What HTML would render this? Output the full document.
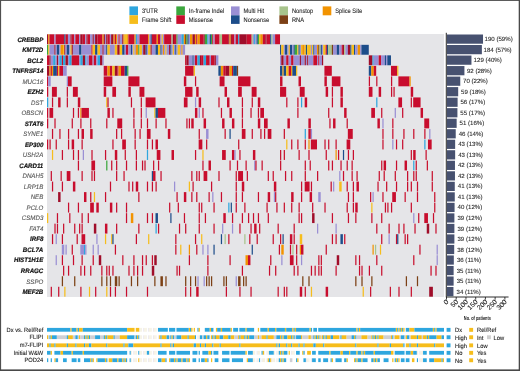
<!DOCTYPE html><html><head><meta charset="utf-8"><style>
html,body{margin:0;padding:0;background:#fff;}
svg{display:block;}
text{font-family:"Liberation Sans",Arial,sans-serif;text-rendering:geometricPrecision;}
.lg{font-size:6.5px;fill:#222;stroke:#222;stroke-width:0.08px;}
.gb{font-size:6.4px;font-weight:bold;font-style:italic;fill:#111;stroke:#111;stroke-width:0.18px;}
.gn{font-size:6.4px;font-style:italic;fill:#585858;stroke:#585858;stroke-width:0.12px;}
.bt{font-size:6.1px;fill:#2a2a2a;stroke:#2a2a2a;stroke-width:0.1px;}
.ax{font-size:6.8px;fill:#222;stroke:#222;stroke-width:0.1px;}
.ax2{font-size:5.8px;font-weight:bold;fill:#222;}
.cl{font-size:6.2px;fill:#222;stroke:#222;stroke-width:0.1px;}
</style></head><body><svg width="520" height="371" viewBox="0 0 520 371">
<rect x="0" y="0" width="520" height="371" fill="#fff"/>
<defs><filter id="bl" x="0" y="0" width="1" height="1"><feGaussianBlur stdDeviation="0.35"/></filter></defs>
<g filter="url(#bl)">
<rect x="129.4" y="6.4" width="8.6" height="8.9" fill="#2ea6de"/>
<text transform="translate(141.90,13.10) scale(0.88,1)" class="lg">3'UTR</text>
<rect x="129.4" y="15.3" width="8.6" height="8.6" fill="#f6bd1b"/>
<text transform="translate(141.90,21.80) scale(0.88,1)" class="lg">Frame Shift</text>
<rect x="176.3" y="6.4" width="8.6" height="8.9" fill="#3aa63c"/>
<text transform="translate(188.80,13.10) scale(0.88,1)" class="lg">In-frame Indel</text>
<rect x="176.3" y="15.3" width="8.6" height="8.6" fill="#c8102e"/>
<text transform="translate(188.80,21.80) scale(0.88,1)" class="lg">Missense</text>
<rect x="231.0" y="6.4" width="8.6" height="8.9" fill="#9a8fd4"/>
<text transform="translate(243.50,13.10) scale(0.88,1)" class="lg">Multi Hit</text>
<rect x="231.0" y="15.3" width="8.6" height="8.6" fill="#1f4e8a"/>
<text transform="translate(243.50,21.80) scale(0.88,1)" class="lg">Nonsense</text>
<rect x="279.4" y="6.4" width="8.6" height="8.9" fill="#a8c48c"/>
<text transform="translate(291.90,13.10) scale(0.88,1)" class="lg">Nonstop</text>
<rect x="279.4" y="15.3" width="8.6" height="8.6" fill="#7b3f12"/>
<text transform="translate(291.90,21.80) scale(0.88,1)" class="lg">RNA</text>
<rect x="322.7" y="6.4" width="8.6" height="8.9" fill="#f29300"/>
<text transform="translate(335.20,13.10) scale(0.88,1)" class="lg">Splice Site</text>
<rect x="47.0" y="34.0" width="397.0" height="263.00" fill="#e5e5e8"/>
<rect x="47.00" y="34.30" width="1.23" height="9.92" fill="#a0102a"/>
<rect x="48.23" y="34.30" width="1.23" height="9.92" fill="#f29300"/>
<rect x="49.47" y="34.30" width="4.93" height="9.92" fill="#c8102e"/>
<rect x="54.40" y="34.30" width="1.23" height="9.92" fill="#9a8fd4"/>
<rect x="55.63" y="34.30" width="8.63" height="9.92" fill="#c8102e"/>
<rect x="64.26" y="34.30" width="1.23" height="9.92" fill="#1f4e8a"/>
<rect x="65.49" y="34.30" width="2.47" height="9.92" fill="#c8102e"/>
<rect x="67.96" y="34.30" width="2.47" height="9.92" fill="#9a8fd4"/>
<rect x="70.43" y="34.30" width="1.23" height="9.92" fill="#a0102a"/>
<rect x="71.66" y="34.30" width="2.47" height="9.92" fill="#c8102e"/>
<rect x="74.12" y="34.30" width="1.23" height="9.92" fill="#9a8fd4"/>
<rect x="75.36" y="34.30" width="3.70" height="9.92" fill="#c8102e"/>
<rect x="79.06" y="34.30" width="1.23" height="9.92" fill="#9a8fd4"/>
<rect x="80.29" y="34.30" width="2.47" height="9.92" fill="#a0102a"/>
<rect x="82.75" y="34.30" width="2.47" height="9.92" fill="#c8102e"/>
<rect x="85.22" y="34.30" width="1.23" height="9.92" fill="#9a8fd4"/>
<rect x="86.45" y="34.30" width="1.23" height="9.92" fill="#a0102a"/>
<rect x="87.69" y="34.30" width="2.47" height="9.92" fill="#c8102e"/>
<rect x="90.15" y="34.30" width="2.47" height="9.92" fill="#9a8fd4"/>
<rect x="92.62" y="34.30" width="1.23" height="9.92" fill="#a0102a"/>
<rect x="93.85" y="34.30" width="1.23" height="9.92" fill="#9a8fd4"/>
<rect x="95.08" y="34.30" width="2.47" height="9.92" fill="#a0102a"/>
<rect x="97.55" y="34.30" width="4.93" height="9.92" fill="#c8102e"/>
<rect x="102.48" y="34.30" width="1.23" height="9.92" fill="#f29300"/>
<rect x="103.71" y="34.30" width="1.23" height="9.92" fill="#a0102a"/>
<rect x="104.95" y="34.30" width="1.23" height="9.92" fill="#9a8fd4"/>
<rect x="106.18" y="34.30" width="1.23" height="9.92" fill="#a0102a"/>
<rect x="107.41" y="34.30" width="2.47" height="9.92" fill="#c8102e"/>
<rect x="109.88" y="34.30" width="1.23" height="9.92" fill="#9a8fd4"/>
<rect x="111.11" y="34.30" width="2.47" height="9.92" fill="#a0102a"/>
<rect x="113.58" y="34.30" width="1.23" height="9.92" fill="#f29300"/>
<rect x="114.81" y="34.30" width="1.23" height="9.92" fill="#c8102e"/>
<rect x="116.04" y="34.30" width="1.23" height="9.92" fill="#f29300"/>
<rect x="117.28" y="34.30" width="1.23" height="9.92" fill="#9a8fd4"/>
<rect x="118.51" y="34.30" width="1.23" height="9.92" fill="#c8102e"/>
<rect x="119.74" y="34.30" width="2.47" height="9.92" fill="#9a8fd4"/>
<rect x="122.21" y="34.30" width="1.23" height="9.92" fill="#a0102a"/>
<rect x="123.44" y="34.30" width="1.23" height="9.92" fill="#f29300"/>
<rect x="124.67" y="34.30" width="2.47" height="9.92" fill="#f6bd1b"/>
<rect x="127.14" y="34.30" width="1.23" height="9.92" fill="#f29300"/>
<rect x="128.37" y="34.30" width="6.16" height="9.92" fill="#c8102e"/>
<rect x="134.54" y="34.30" width="1.23" height="9.92" fill="#f29300"/>
<rect x="135.77" y="34.30" width="1.23" height="9.92" fill="#2ea6de"/>
<rect x="137.00" y="34.30" width="2.47" height="9.92" fill="#9a8fd4"/>
<rect x="139.47" y="34.30" width="8.63" height="9.92" fill="#c8102e"/>
<rect x="148.10" y="34.30" width="1.23" height="9.92" fill="#f29300"/>
<rect x="149.33" y="34.30" width="1.23" height="9.92" fill="#9a8fd4"/>
<rect x="150.57" y="34.30" width="1.23" height="9.92" fill="#1f4e8a"/>
<rect x="151.80" y="34.30" width="4.93" height="9.92" fill="#c8102e"/>
<rect x="156.73" y="34.30" width="1.23" height="9.92" fill="#f29300"/>
<rect x="157.96" y="34.30" width="2.47" height="9.92" fill="#c8102e"/>
<rect x="160.43" y="34.30" width="1.23" height="9.92" fill="#9a8fd4"/>
<rect x="161.66" y="34.30" width="1.23" height="9.92" fill="#f6bd1b"/>
<rect x="162.89" y="34.30" width="1.23" height="9.92" fill="#9a8fd4"/>
<rect x="164.13" y="34.30" width="7.40" height="9.92" fill="#c8102e"/>
<rect x="171.52" y="34.30" width="1.23" height="9.92" fill="#a8c48c"/>
<rect x="172.76" y="34.30" width="1.23" height="9.92" fill="#a0102a"/>
<rect x="173.99" y="34.30" width="2.47" height="9.92" fill="#c8102e"/>
<rect x="176.46" y="34.30" width="1.23" height="9.92" fill="#3aa63c"/>
<rect x="177.69" y="34.30" width="3.70" height="9.92" fill="#9a8fd4"/>
<rect x="181.39" y="34.30" width="2.47" height="9.92" fill="#2ea6de"/>
<rect x="183.85" y="34.30" width="1.23" height="9.92" fill="#f29300"/>
<rect x="185.09" y="34.30" width="1.23" height="9.92" fill="#7b3f12"/>
<rect x="186.32" y="34.30" width="1.23" height="9.92" fill="#3aa63c"/>
<rect x="187.55" y="34.30" width="1.23" height="9.92" fill="#1f4e8a"/>
<rect x="188.79" y="34.30" width="1.23" height="9.92" fill="#9a8fd4"/>
<rect x="190.02" y="34.30" width="2.47" height="9.92" fill="#f29300"/>
<rect x="192.48" y="34.30" width="2.47" height="9.92" fill="#a0102a"/>
<rect x="194.95" y="34.30" width="1.23" height="9.92" fill="#f29300"/>
<rect x="196.18" y="34.30" width="1.23" height="9.92" fill="#c8102e"/>
<rect x="197.42" y="34.30" width="2.47" height="9.92" fill="#f29300"/>
<rect x="199.88" y="34.30" width="3.70" height="9.92" fill="#c8102e"/>
<rect x="203.58" y="34.30" width="1.23" height="9.92" fill="#a0102a"/>
<rect x="204.81" y="34.30" width="2.47" height="9.92" fill="#3aa63c"/>
<rect x="207.28" y="34.30" width="1.23" height="9.92" fill="#2ea6de"/>
<rect x="208.51" y="34.30" width="1.23" height="9.92" fill="#9a8fd4"/>
<rect x="209.75" y="34.30" width="1.23" height="9.92" fill="#1f4e8a"/>
<rect x="210.98" y="34.30" width="1.23" height="9.92" fill="#3aa63c"/>
<rect x="212.21" y="34.30" width="1.23" height="9.92" fill="#c8102e"/>
<rect x="213.44" y="34.30" width="1.23" height="9.92" fill="#9a8fd4"/>
<rect x="214.68" y="34.30" width="4.93" height="9.92" fill="#c8102e"/>
<rect x="219.61" y="34.30" width="2.47" height="9.92" fill="#a8c48c"/>
<rect x="222.07" y="34.30" width="6.16" height="9.92" fill="#c8102e"/>
<rect x="228.24" y="34.30" width="1.23" height="9.92" fill="#a0102a"/>
<rect x="229.47" y="34.30" width="1.23" height="9.92" fill="#f29300"/>
<rect x="230.70" y="34.30" width="1.23" height="9.92" fill="#a0102a"/>
<rect x="231.94" y="34.30" width="2.47" height="9.92" fill="#c8102e"/>
<rect x="234.40" y="34.30" width="1.23" height="9.92" fill="#9a8fd4"/>
<rect x="235.64" y="34.30" width="2.47" height="9.92" fill="#c8102e"/>
<rect x="238.10" y="34.30" width="1.23" height="9.92" fill="#2ea6de"/>
<rect x="239.34" y="34.30" width="7.40" height="9.92" fill="#a0102a"/>
<rect x="246.73" y="34.30" width="4.93" height="9.92" fill="#c8102e"/>
<rect x="251.66" y="34.30" width="1.23" height="9.92" fill="#a8c48c"/>
<rect x="252.90" y="34.30" width="1.23" height="9.92" fill="#9a8fd4"/>
<rect x="254.13" y="34.30" width="1.23" height="9.92" fill="#2ea6de"/>
<rect x="255.36" y="34.30" width="1.23" height="9.92" fill="#9a8fd4"/>
<rect x="256.60" y="34.30" width="1.23" height="9.92" fill="#1f4e8a"/>
<rect x="257.83" y="34.30" width="1.23" height="9.92" fill="#3aa63c"/>
<rect x="259.06" y="34.30" width="1.23" height="9.92" fill="#f6bd1b"/>
<rect x="260.30" y="34.30" width="2.47" height="9.92" fill="#f29300"/>
<rect x="262.76" y="34.30" width="2.47" height="9.92" fill="#c8102e"/>
<rect x="265.23" y="34.30" width="1.23" height="9.92" fill="#a0102a"/>
<rect x="266.46" y="34.30" width="3.70" height="9.92" fill="#c8102e"/>
<rect x="270.16" y="34.30" width="1.23" height="9.92" fill="#1f4e8a"/>
<rect x="271.39" y="34.30" width="1.23" height="9.92" fill="#a8c48c"/>
<rect x="272.62" y="34.30" width="2.47" height="9.92" fill="#9a8fd4"/>
<rect x="275.09" y="34.30" width="4.93" height="9.92" fill="#c8102e"/>
<rect x="47.00" y="44.82" width="1.23" height="9.92" fill="#3aa63c"/>
<rect x="48.23" y="44.82" width="1.23" height="9.92" fill="#f6bd1b"/>
<rect x="49.47" y="44.82" width="4.93" height="9.92" fill="#9a8fd4"/>
<rect x="54.40" y="44.82" width="1.23" height="9.92" fill="#a0102a"/>
<rect x="55.63" y="44.82" width="1.23" height="9.92" fill="#9a8fd4"/>
<rect x="56.86" y="44.82" width="2.47" height="9.92" fill="#1f4e8a"/>
<rect x="59.33" y="44.82" width="1.23" height="9.92" fill="#9a8fd4"/>
<rect x="60.56" y="44.82" width="2.47" height="9.92" fill="#f29300"/>
<rect x="63.03" y="44.82" width="1.23" height="9.92" fill="#f6bd1b"/>
<rect x="64.26" y="44.82" width="1.23" height="9.92" fill="#a0102a"/>
<rect x="65.49" y="44.82" width="1.23" height="9.92" fill="#9a8fd4"/>
<rect x="66.73" y="44.82" width="2.47" height="9.92" fill="#1f4e8a"/>
<rect x="69.19" y="44.82" width="1.23" height="9.92" fill="#9a8fd4"/>
<rect x="70.43" y="44.82" width="1.23" height="9.92" fill="#f6bd1b"/>
<rect x="71.66" y="44.82" width="1.23" height="9.92" fill="#a0102a"/>
<rect x="72.89" y="44.82" width="6.16" height="9.92" fill="#9a8fd4"/>
<rect x="79.06" y="44.82" width="2.47" height="9.92" fill="#1f4e8a"/>
<rect x="81.52" y="44.82" width="9.86" height="9.92" fill="#9a8fd4"/>
<rect x="91.39" y="44.82" width="1.23" height="9.92" fill="#c8102e"/>
<rect x="92.62" y="44.82" width="2.47" height="9.92" fill="#f6bd1b"/>
<rect x="95.08" y="44.82" width="2.47" height="9.92" fill="#1f4e8a"/>
<rect x="97.55" y="44.82" width="2.47" height="9.92" fill="#f6bd1b"/>
<rect x="100.02" y="44.82" width="2.47" height="9.92" fill="#9a8fd4"/>
<rect x="102.48" y="44.82" width="1.23" height="9.92" fill="#a0102a"/>
<rect x="103.71" y="44.82" width="2.47" height="9.92" fill="#9a8fd4"/>
<rect x="106.18" y="44.82" width="1.23" height="9.92" fill="#1f4e8a"/>
<rect x="107.41" y="44.82" width="2.47" height="9.92" fill="#f6bd1b"/>
<rect x="109.88" y="44.82" width="4.93" height="9.92" fill="#9a8fd4"/>
<rect x="114.81" y="44.82" width="2.47" height="9.92" fill="#f6bd1b"/>
<rect x="117.28" y="44.82" width="2.47" height="9.92" fill="#a0102a"/>
<rect x="119.74" y="44.82" width="2.47" height="9.92" fill="#f6bd1b"/>
<rect x="122.21" y="44.82" width="2.47" height="9.92" fill="#1f4e8a"/>
<rect x="124.67" y="44.82" width="1.23" height="9.92" fill="#9a8fd4"/>
<rect x="125.91" y="44.82" width="2.47" height="9.92" fill="#c8102e"/>
<rect x="128.37" y="44.82" width="2.47" height="9.92" fill="#9a8fd4"/>
<rect x="130.84" y="44.82" width="1.23" height="9.92" fill="#1f4e8a"/>
<rect x="132.07" y="44.82" width="1.23" height="9.92" fill="#9a8fd4"/>
<rect x="133.30" y="44.82" width="1.23" height="9.92" fill="#f6bd1b"/>
<rect x="134.54" y="44.82" width="1.23" height="9.92" fill="#9a8fd4"/>
<rect x="135.77" y="44.82" width="2.47" height="9.92" fill="#f29300"/>
<rect x="138.24" y="44.82" width="1.23" height="9.92" fill="#3aa63c"/>
<rect x="139.47" y="44.82" width="2.47" height="9.92" fill="#f6bd1b"/>
<rect x="141.93" y="44.82" width="1.23" height="9.92" fill="#9a8fd4"/>
<rect x="143.17" y="44.82" width="2.47" height="9.92" fill="#a0102a"/>
<rect x="145.63" y="44.82" width="1.23" height="9.92" fill="#1f4e8a"/>
<rect x="146.87" y="44.82" width="1.23" height="9.92" fill="#9a8fd4"/>
<rect x="148.10" y="44.82" width="2.47" height="9.92" fill="#f6bd1b"/>
<rect x="150.57" y="44.82" width="1.23" height="9.92" fill="#a0102a"/>
<rect x="151.80" y="44.82" width="3.70" height="9.92" fill="#9a8fd4"/>
<rect x="155.50" y="44.82" width="2.47" height="9.92" fill="#1f4e8a"/>
<rect x="157.96" y="44.82" width="2.47" height="9.92" fill="#f6bd1b"/>
<rect x="160.43" y="44.82" width="1.23" height="9.92" fill="#1f4e8a"/>
<rect x="161.66" y="44.82" width="1.23" height="9.92" fill="#9a8fd4"/>
<rect x="162.89" y="44.82" width="1.23" height="9.92" fill="#f29300"/>
<rect x="164.13" y="44.82" width="1.23" height="9.92" fill="#9a8fd4"/>
<rect x="165.36" y="44.82" width="1.23" height="9.92" fill="#f6bd1b"/>
<rect x="166.59" y="44.82" width="2.47" height="9.92" fill="#9a8fd4"/>
<rect x="169.06" y="44.82" width="1.23" height="9.92" fill="#a0102a"/>
<rect x="170.29" y="44.82" width="1.23" height="9.92" fill="#1f4e8a"/>
<rect x="171.52" y="44.82" width="1.23" height="9.92" fill="#9a8fd4"/>
<rect x="172.76" y="44.82" width="1.23" height="9.92" fill="#f6bd1b"/>
<rect x="173.99" y="44.82" width="1.23" height="9.92" fill="#9a8fd4"/>
<rect x="175.22" y="44.82" width="1.23" height="9.92" fill="#1f4e8a"/>
<rect x="176.46" y="44.82" width="1.23" height="9.92" fill="#9a8fd4"/>
<rect x="177.69" y="44.82" width="2.47" height="9.92" fill="#f6bd1b"/>
<rect x="180.16" y="44.82" width="1.23" height="9.92" fill="#9a8fd4"/>
<rect x="181.39" y="44.82" width="1.23" height="9.92" fill="#f29300"/>
<rect x="182.62" y="44.82" width="2.47" height="9.92" fill="#9a8fd4"/>
<rect x="280.02" y="44.82" width="1.23" height="9.92" fill="#1f4e8a"/>
<rect x="281.25" y="44.82" width="2.47" height="9.92" fill="#f6bd1b"/>
<rect x="283.72" y="44.82" width="1.23" height="9.92" fill="#9a8fd4"/>
<rect x="284.95" y="44.82" width="2.47" height="9.92" fill="#1f4e8a"/>
<rect x="287.42" y="44.82" width="1.23" height="9.92" fill="#9a8fd4"/>
<rect x="288.65" y="44.82" width="1.23" height="9.92" fill="#f6bd1b"/>
<rect x="289.89" y="44.82" width="2.47" height="9.92" fill="#1f4e8a"/>
<rect x="292.35" y="44.82" width="1.23" height="9.92" fill="#9a8fd4"/>
<rect x="293.58" y="44.82" width="1.23" height="9.92" fill="#1f4e8a"/>
<rect x="294.82" y="44.82" width="2.47" height="9.92" fill="#3aa63c"/>
<rect x="297.28" y="44.82" width="1.23" height="9.92" fill="#f6bd1b"/>
<rect x="298.52" y="44.82" width="1.23" height="9.92" fill="#1f4e8a"/>
<rect x="299.75" y="44.82" width="1.23" height="9.92" fill="#9a8fd4"/>
<rect x="300.98" y="44.82" width="1.23" height="9.92" fill="#f6bd1b"/>
<rect x="302.21" y="44.82" width="2.47" height="9.92" fill="#f29300"/>
<rect x="304.68" y="44.82" width="1.23" height="9.92" fill="#f6bd1b"/>
<rect x="305.91" y="44.82" width="1.23" height="9.92" fill="#1f4e8a"/>
<rect x="307.15" y="44.82" width="3.70" height="9.92" fill="#f6bd1b"/>
<rect x="310.84" y="44.82" width="1.23" height="9.92" fill="#9a8fd4"/>
<rect x="312.08" y="44.82" width="1.23" height="9.92" fill="#f6bd1b"/>
<rect x="313.31" y="44.82" width="1.23" height="9.92" fill="#1f4e8a"/>
<rect x="314.54" y="44.82" width="2.47" height="9.92" fill="#9a8fd4"/>
<rect x="317.01" y="44.82" width="1.23" height="9.92" fill="#f29300"/>
<rect x="318.24" y="44.82" width="1.23" height="9.92" fill="#7b3f12"/>
<rect x="319.48" y="44.82" width="1.23" height="9.92" fill="#a8c48c"/>
<rect x="320.71" y="44.82" width="1.23" height="9.92" fill="#1f4e8a"/>
<rect x="321.94" y="44.82" width="1.23" height="9.92" fill="#9a8fd4"/>
<rect x="323.17" y="44.82" width="2.47" height="9.92" fill="#f6bd1b"/>
<rect x="325.64" y="44.82" width="1.23" height="9.92" fill="#c8102e"/>
<rect x="326.87" y="44.82" width="1.23" height="9.92" fill="#1f4e8a"/>
<rect x="328.11" y="44.82" width="3.70" height="9.92" fill="#a8c48c"/>
<rect x="331.80" y="44.82" width="1.23" height="9.92" fill="#7b3f12"/>
<rect x="333.04" y="44.82" width="3.70" height="9.92" fill="#9a8fd4"/>
<rect x="336.74" y="44.82" width="2.47" height="9.92" fill="#1f4e8a"/>
<rect x="339.20" y="44.82" width="2.47" height="9.92" fill="#9a8fd4"/>
<rect x="341.67" y="44.82" width="1.23" height="9.92" fill="#c8102e"/>
<rect x="342.90" y="44.82" width="1.23" height="9.92" fill="#a0102a"/>
<rect x="344.13" y="44.82" width="1.23" height="9.92" fill="#a8c48c"/>
<rect x="345.37" y="44.82" width="2.47" height="9.92" fill="#9a8fd4"/>
<rect x="347.83" y="44.82" width="2.47" height="9.92" fill="#a0102a"/>
<rect x="350.30" y="44.82" width="1.23" height="9.92" fill="#1f4e8a"/>
<rect x="351.53" y="44.82" width="2.47" height="9.92" fill="#f6bd1b"/>
<rect x="354.00" y="44.82" width="1.23" height="9.92" fill="#1f4e8a"/>
<rect x="355.23" y="44.82" width="2.47" height="9.92" fill="#9a8fd4"/>
<rect x="357.70" y="44.82" width="2.47" height="9.92" fill="#f29300"/>
<rect x="360.16" y="44.82" width="1.23" height="9.92" fill="#9a8fd4"/>
<rect x="361.39" y="44.82" width="7.40" height="9.92" fill="#1f4e8a"/>
<rect x="47.00" y="55.34" width="2.47" height="9.92" fill="#c8102e"/>
<rect x="49.47" y="55.34" width="1.23" height="9.92" fill="#a0102a"/>
<rect x="50.70" y="55.34" width="2.47" height="9.92" fill="#9a8fd4"/>
<rect x="53.16" y="55.34" width="2.47" height="9.92" fill="#2ea6de"/>
<rect x="55.63" y="55.34" width="1.23" height="9.92" fill="#9a8fd4"/>
<rect x="56.86" y="55.34" width="1.23" height="9.92" fill="#a0102a"/>
<rect x="58.10" y="55.34" width="1.23" height="9.92" fill="#9a8fd4"/>
<rect x="59.33" y="55.34" width="2.47" height="9.92" fill="#2ea6de"/>
<rect x="61.80" y="55.34" width="1.23" height="9.92" fill="#c8102e"/>
<rect x="63.03" y="55.34" width="2.47" height="9.92" fill="#2ea6de"/>
<rect x="65.49" y="55.34" width="2.47" height="9.92" fill="#a0102a"/>
<rect x="67.96" y="55.34" width="1.23" height="9.92" fill="#9a8fd4"/>
<rect x="69.19" y="55.34" width="2.47" height="9.92" fill="#2ea6de"/>
<rect x="71.66" y="55.34" width="7.40" height="9.92" fill="#c8102e"/>
<rect x="79.06" y="55.34" width="1.23" height="9.92" fill="#9a8fd4"/>
<rect x="80.29" y="55.34" width="2.47" height="9.92" fill="#2ea6de"/>
<rect x="82.75" y="55.34" width="2.47" height="9.92" fill="#a0102a"/>
<rect x="85.22" y="55.34" width="1.23" height="9.92" fill="#2ea6de"/>
<rect x="86.45" y="55.34" width="2.47" height="9.92" fill="#9a8fd4"/>
<rect x="88.92" y="55.34" width="3.70" height="9.92" fill="#c8102e"/>
<rect x="92.62" y="55.34" width="1.23" height="9.92" fill="#9a8fd4"/>
<rect x="93.85" y="55.34" width="2.47" height="9.92" fill="#c8102e"/>
<rect x="96.32" y="55.34" width="1.23" height="9.92" fill="#9a8fd4"/>
<rect x="97.55" y="55.34" width="2.47" height="9.92" fill="#2ea6de"/>
<rect x="100.02" y="55.34" width="2.47" height="9.92" fill="#a0102a"/>
<rect x="102.48" y="55.34" width="1.23" height="9.92" fill="#9a8fd4"/>
<rect x="185.09" y="55.34" width="1.23" height="9.92" fill="#c8102e"/>
<rect x="186.32" y="55.34" width="2.47" height="9.92" fill="#a0102a"/>
<rect x="188.79" y="55.34" width="3.70" height="9.92" fill="#9a8fd4"/>
<rect x="192.48" y="55.34" width="1.23" height="9.92" fill="#1f4e8a"/>
<rect x="193.72" y="55.34" width="1.23" height="9.92" fill="#9a8fd4"/>
<rect x="194.95" y="55.34" width="2.47" height="9.92" fill="#c8102e"/>
<rect x="197.42" y="55.34" width="2.47" height="9.92" fill="#2ea6de"/>
<rect x="199.88" y="55.34" width="1.23" height="9.92" fill="#a0102a"/>
<rect x="201.11" y="55.34" width="2.47" height="9.92" fill="#c8102e"/>
<rect x="203.58" y="55.34" width="2.47" height="9.92" fill="#2ea6de"/>
<rect x="206.05" y="55.34" width="3.70" height="9.92" fill="#c8102e"/>
<rect x="209.75" y="55.34" width="1.23" height="9.92" fill="#9a8fd4"/>
<rect x="210.98" y="55.34" width="3.70" height="9.92" fill="#c8102e"/>
<rect x="214.68" y="55.34" width="1.23" height="9.92" fill="#a0102a"/>
<rect x="215.91" y="55.34" width="2.47" height="9.92" fill="#9a8fd4"/>
<rect x="280.02" y="55.34" width="1.23" height="9.92" fill="#9a8fd4"/>
<rect x="281.25" y="55.34" width="2.47" height="9.92" fill="#a0102a"/>
<rect x="283.72" y="55.34" width="2.47" height="9.92" fill="#9a8fd4"/>
<rect x="286.19" y="55.34" width="2.47" height="9.92" fill="#c8102e"/>
<rect x="288.65" y="55.34" width="2.47" height="9.92" fill="#9a8fd4"/>
<rect x="291.12" y="55.34" width="2.47" height="9.92" fill="#c8102e"/>
<rect x="293.58" y="55.34" width="6.16" height="9.92" fill="#9a8fd4"/>
<rect x="299.75" y="55.34" width="1.23" height="9.92" fill="#a0102a"/>
<rect x="300.98" y="55.34" width="3.70" height="9.92" fill="#9a8fd4"/>
<rect x="304.68" y="55.34" width="1.23" height="9.92" fill="#a0102a"/>
<rect x="305.91" y="55.34" width="1.23" height="9.92" fill="#9a8fd4"/>
<rect x="307.15" y="55.34" width="1.23" height="9.92" fill="#a0102a"/>
<rect x="308.38" y="55.34" width="4.93" height="9.92" fill="#9a8fd4"/>
<rect x="313.31" y="55.34" width="3.70" height="9.92" fill="#c8102e"/>
<rect x="317.01" y="55.34" width="1.23" height="9.92" fill="#9a8fd4"/>
<rect x="318.24" y="55.34" width="1.23" height="9.92" fill="#c8102e"/>
<rect x="319.48" y="55.34" width="2.47" height="9.92" fill="#9a8fd4"/>
<rect x="321.94" y="55.34" width="1.23" height="9.92" fill="#a0102a"/>
<rect x="368.79" y="55.34" width="3.70" height="9.92" fill="#a0102a"/>
<rect x="372.49" y="55.34" width="1.23" height="9.92" fill="#2ea6de"/>
<rect x="373.72" y="55.34" width="4.93" height="9.92" fill="#9a8fd4"/>
<rect x="378.66" y="55.34" width="2.47" height="9.92" fill="#c8102e"/>
<rect x="381.12" y="55.34" width="3.70" height="9.92" fill="#9a8fd4"/>
<rect x="384.82" y="55.34" width="1.23" height="9.92" fill="#1f4e8a"/>
<rect x="386.05" y="55.34" width="1.23" height="9.92" fill="#9a8fd4"/>
<rect x="387.29" y="55.34" width="3.70" height="9.92" fill="#1f4e8a"/>
<rect x="47.00" y="65.86" width="2.47" height="9.92" fill="#a0102a"/>
<rect x="49.47" y="65.86" width="1.23" height="9.92" fill="#f29300"/>
<rect x="50.70" y="65.86" width="1.23" height="9.92" fill="#c8102e"/>
<rect x="51.93" y="65.86" width="1.23" height="9.92" fill="#f29300"/>
<rect x="53.16" y="65.86" width="3.70" height="9.92" fill="#1f4e8a"/>
<rect x="56.86" y="65.86" width="1.23" height="9.92" fill="#c8102e"/>
<rect x="58.10" y="65.86" width="1.23" height="9.92" fill="#f6bd1b"/>
<rect x="59.33" y="65.86" width="3.70" height="9.92" fill="#c8102e"/>
<rect x="63.03" y="65.86" width="3.70" height="9.92" fill="#9a8fd4"/>
<rect x="103.71" y="65.86" width="3.70" height="9.92" fill="#c8102e"/>
<rect x="107.41" y="65.86" width="2.47" height="9.92" fill="#f29300"/>
<rect x="109.88" y="65.86" width="2.47" height="9.92" fill="#c8102e"/>
<rect x="112.34" y="65.86" width="2.47" height="9.92" fill="#f6bd1b"/>
<rect x="114.81" y="65.86" width="2.47" height="9.92" fill="#a0102a"/>
<rect x="117.28" y="65.86" width="1.23" height="9.92" fill="#c8102e"/>
<rect x="118.51" y="65.86" width="2.47" height="9.92" fill="#f29300"/>
<rect x="120.98" y="65.86" width="3.70" height="9.92" fill="#c8102e"/>
<rect x="124.67" y="65.86" width="2.47" height="9.92" fill="#1f4e8a"/>
<rect x="127.14" y="65.86" width="1.23" height="9.92" fill="#3aa63c"/>
<rect x="185.09" y="65.86" width="8.63" height="9.92" fill="#c8102e"/>
<rect x="193.72" y="65.86" width="1.23" height="9.92" fill="#f6bd1b"/>
<rect x="218.38" y="65.86" width="2.47" height="9.92" fill="#1f4e8a"/>
<rect x="220.84" y="65.86" width="2.47" height="9.92" fill="#f29300"/>
<rect x="223.31" y="65.86" width="2.47" height="9.92" fill="#c8102e"/>
<rect x="225.77" y="65.86" width="3.70" height="9.92" fill="#a0102a"/>
<rect x="229.47" y="65.86" width="2.47" height="9.92" fill="#f29300"/>
<rect x="231.94" y="65.86" width="1.23" height="9.92" fill="#c8102e"/>
<rect x="233.17" y="65.86" width="3.70" height="9.92" fill="#1f4e8a"/>
<rect x="236.87" y="65.86" width="1.23" height="9.92" fill="#7b3f12"/>
<rect x="280.02" y="65.86" width="2.47" height="9.92" fill="#1f4e8a"/>
<rect x="282.49" y="65.86" width="1.23" height="9.92" fill="#f29300"/>
<rect x="283.72" y="65.86" width="2.47" height="9.92" fill="#1f4e8a"/>
<rect x="286.19" y="65.86" width="2.47" height="9.92" fill="#f6bd1b"/>
<rect x="288.65" y="65.86" width="2.47" height="9.92" fill="#c8102e"/>
<rect x="291.12" y="65.86" width="1.23" height="9.92" fill="#f29300"/>
<rect x="292.35" y="65.86" width="3.70" height="9.92" fill="#1f4e8a"/>
<rect x="296.05" y="65.86" width="1.23" height="9.92" fill="#f6bd1b"/>
<rect x="324.41" y="65.86" width="7.40" height="9.92" fill="#c8102e"/>
<rect x="368.79" y="65.86" width="2.47" height="9.92" fill="#1f4e8a"/>
<rect x="371.26" y="65.86" width="2.47" height="9.92" fill="#f29300"/>
<rect x="373.72" y="65.86" width="2.47" height="9.92" fill="#c8102e"/>
<rect x="390.98" y="65.86" width="6.16" height="9.92" fill="#c8102e"/>
<rect x="397.15" y="65.86" width="1.23" height="9.92" fill="#f6bd1b"/>
<rect x="47.00" y="76.38" width="1.23" height="9.92" fill="#c8102e"/>
<rect x="48.23" y="76.38" width="2.47" height="9.92" fill="#9a8fd4"/>
<rect x="66.73" y="76.38" width="1.23" height="9.92" fill="#9a8fd4"/>
<rect x="67.96" y="76.38" width="3.70" height="9.92" fill="#c8102e"/>
<rect x="103.71" y="76.38" width="8.63" height="9.92" fill="#c8102e"/>
<rect x="128.37" y="76.38" width="11.10" height="9.92" fill="#c8102e"/>
<rect x="183.85" y="76.38" width="2.47" height="9.92" fill="#c8102e"/>
<rect x="194.95" y="76.38" width="1.23" height="9.92" fill="#c8102e"/>
<rect x="219.61" y="76.38" width="4.93" height="9.92" fill="#c8102e"/>
<rect x="238.10" y="76.38" width="12.33" height="9.92" fill="#c8102e"/>
<rect x="280.02" y="76.38" width="2.47" height="9.92" fill="#c8102e"/>
<rect x="298.52" y="76.38" width="2.47" height="9.92" fill="#c8102e"/>
<rect x="324.41" y="76.38" width="2.47" height="9.92" fill="#c8102e"/>
<rect x="331.80" y="76.38" width="8.63" height="9.92" fill="#c8102e"/>
<rect x="368.79" y="76.38" width="1.23" height="9.92" fill="#c8102e"/>
<rect x="376.19" y="76.38" width="1.23" height="9.92" fill="#c8102e"/>
<rect x="390.98" y="76.38" width="1.23" height="9.92" fill="#c8102e"/>
<rect x="398.38" y="76.38" width="11.10" height="9.92" fill="#c8102e"/>
<rect x="409.48" y="76.38" width="1.23" height="9.92" fill="#f29300"/>
<rect x="47.00" y="86.90" width="1.23" height="9.92" fill="#c8102e"/>
<rect x="51.93" y="86.90" width="4.93" height="9.92" fill="#c8102e"/>
<rect x="66.73" y="86.90" width="1.23" height="9.92" fill="#c8102e"/>
<rect x="72.89" y="86.90" width="4.93" height="9.92" fill="#c8102e"/>
<rect x="103.71" y="86.90" width="2.47" height="9.92" fill="#c8102e"/>
<rect x="112.34" y="86.90" width="3.70" height="9.92" fill="#c8102e"/>
<rect x="128.37" y="86.90" width="2.47" height="9.92" fill="#c8102e"/>
<rect x="139.47" y="86.90" width="4.93" height="9.92" fill="#c8102e"/>
<rect x="185.09" y="86.90" width="7.40" height="9.92" fill="#c8102e"/>
<rect x="196.18" y="86.90" width="2.47" height="9.92" fill="#c8102e"/>
<rect x="224.54" y="86.90" width="2.47" height="9.92" fill="#c8102e"/>
<rect x="238.10" y="86.90" width="3.70" height="9.92" fill="#c8102e"/>
<rect x="251.66" y="86.90" width="4.93" height="9.92" fill="#c8102e"/>
<rect x="280.02" y="86.90" width="6.16" height="9.92" fill="#c8102e"/>
<rect x="299.75" y="86.90" width="4.93" height="9.92" fill="#c8102e"/>
<rect x="325.64" y="86.90" width="2.47" height="9.92" fill="#c8102e"/>
<rect x="331.80" y="86.90" width="1.23" height="9.92" fill="#c8102e"/>
<rect x="340.43" y="86.90" width="2.47" height="9.92" fill="#c8102e"/>
<rect x="368.79" y="86.90" width="3.70" height="9.92" fill="#c8102e"/>
<rect x="378.66" y="86.90" width="2.47" height="9.92" fill="#c8102e"/>
<rect x="390.98" y="86.90" width="1.23" height="9.92" fill="#c8102e"/>
<rect x="393.45" y="86.90" width="1.23" height="9.92" fill="#c8102e"/>
<rect x="410.71" y="86.90" width="2.47" height="9.92" fill="#c8102e"/>
<rect x="47.00" y="97.42" width="1.23" height="9.92" fill="#2ea6de"/>
<rect x="51.93" y="97.42" width="1.23" height="9.92" fill="#c8102e"/>
<rect x="58.10" y="97.42" width="2.47" height="9.92" fill="#c8102e"/>
<rect x="66.73" y="97.42" width="1.23" height="9.92" fill="#c8102e"/>
<rect x="77.82" y="97.42" width="2.47" height="9.92" fill="#c8102e"/>
<rect x="106.18" y="97.42" width="1.23" height="9.92" fill="#f6bd1b"/>
<rect x="107.41" y="97.42" width="1.23" height="9.92" fill="#c8102e"/>
<rect x="130.84" y="97.42" width="1.23" height="9.92" fill="#c8102e"/>
<rect x="140.70" y="97.42" width="1.23" height="9.92" fill="#c8102e"/>
<rect x="145.63" y="97.42" width="9.86" height="9.92" fill="#c8102e"/>
<rect x="183.85" y="97.42" width="3.70" height="9.92" fill="#c8102e"/>
<rect x="194.95" y="97.42" width="1.23" height="9.92" fill="#9a8fd4"/>
<rect x="198.65" y="97.42" width="2.47" height="9.92" fill="#c8102e"/>
<rect x="218.38" y="97.42" width="1.23" height="9.92" fill="#c8102e"/>
<rect x="227.01" y="97.42" width="2.47" height="9.92" fill="#c8102e"/>
<rect x="241.80" y="97.42" width="1.23" height="9.92" fill="#c8102e"/>
<rect x="251.66" y="97.42" width="1.23" height="9.92" fill="#c8102e"/>
<rect x="257.83" y="97.42" width="2.47" height="9.92" fill="#c8102e"/>
<rect x="286.19" y="97.42" width="1.23" height="9.92" fill="#c8102e"/>
<rect x="297.28" y="97.42" width="1.23" height="9.92" fill="#c8102e"/>
<rect x="300.98" y="97.42" width="1.23" height="9.92" fill="#2ea6de"/>
<rect x="304.68" y="97.42" width="2.47" height="9.92" fill="#c8102e"/>
<rect x="331.80" y="97.42" width="1.23" height="9.92" fill="#c8102e"/>
<rect x="340.43" y="97.42" width="2.47" height="9.92" fill="#c8102e"/>
<rect x="376.19" y="97.42" width="1.23" height="9.92" fill="#2ea6de"/>
<rect x="398.38" y="97.42" width="3.70" height="9.92" fill="#c8102e"/>
<rect x="410.71" y="97.42" width="1.23" height="9.92" fill="#c8102e"/>
<rect x="413.18" y="97.42" width="7.40" height="9.92" fill="#c8102e"/>
<rect x="47.00" y="107.94" width="1.23" height="9.92" fill="#c8102e"/>
<rect x="49.47" y="107.94" width="3.70" height="9.92" fill="#c8102e"/>
<rect x="72.89" y="107.94" width="1.23" height="9.92" fill="#c8102e"/>
<rect x="77.82" y="107.94" width="1.23" height="9.92" fill="#c8102e"/>
<rect x="80.29" y="107.94" width="1.23" height="9.92" fill="#f29300"/>
<rect x="81.52" y="107.94" width="7.40" height="9.92" fill="#c8102e"/>
<rect x="107.41" y="107.94" width="2.47" height="9.92" fill="#c8102e"/>
<rect x="112.34" y="107.94" width="1.23" height="9.92" fill="#c8102e"/>
<rect x="133.30" y="107.94" width="1.23" height="9.92" fill="#c8102e"/>
<rect x="140.70" y="107.94" width="1.23" height="9.92" fill="#c8102e"/>
<rect x="145.63" y="107.94" width="1.23" height="9.92" fill="#9a8fd4"/>
<rect x="154.26" y="107.94" width="1.23" height="9.92" fill="#f6bd1b"/>
<rect x="155.50" y="107.94" width="2.47" height="9.92" fill="#1f4e8a"/>
<rect x="157.96" y="107.94" width="7.40" height="9.92" fill="#c8102e"/>
<rect x="194.95" y="107.94" width="2.47" height="9.92" fill="#c8102e"/>
<rect x="198.65" y="107.94" width="1.23" height="9.92" fill="#9a8fd4"/>
<rect x="202.35" y="107.94" width="1.23" height="9.92" fill="#c8102e"/>
<rect x="220.84" y="107.94" width="1.23" height="9.92" fill="#c8102e"/>
<rect x="229.47" y="107.94" width="2.47" height="9.92" fill="#c8102e"/>
<rect x="241.80" y="107.94" width="1.23" height="9.92" fill="#c8102e"/>
<rect x="250.43" y="107.94" width="1.23" height="9.92" fill="#c8102e"/>
<rect x="257.83" y="107.94" width="1.23" height="9.92" fill="#c8102e"/>
<rect x="260.30" y="107.94" width="3.70" height="9.92" fill="#c8102e"/>
<rect x="297.28" y="107.94" width="1.23" height="9.92" fill="#c8102e"/>
<rect x="328.11" y="107.94" width="1.23" height="9.92" fill="#c8102e"/>
<rect x="344.13" y="107.94" width="2.47" height="9.92" fill="#c8102e"/>
<rect x="371.26" y="107.94" width="3.70" height="9.92" fill="#c8102e"/>
<rect x="381.12" y="107.94" width="1.23" height="9.92" fill="#c8102e"/>
<rect x="394.68" y="107.94" width="1.23" height="9.92" fill="#9a8fd4"/>
<rect x="402.08" y="107.94" width="1.23" height="9.92" fill="#c8102e"/>
<rect x="420.57" y="107.94" width="2.47" height="9.92" fill="#c8102e"/>
<rect x="47.00" y="118.46" width="1.23" height="9.92" fill="#c8102e"/>
<rect x="54.40" y="118.46" width="1.23" height="9.92" fill="#c8102e"/>
<rect x="71.66" y="118.46" width="1.23" height="9.92" fill="#c8102e"/>
<rect x="80.29" y="118.46" width="1.23" height="9.92" fill="#c8102e"/>
<rect x="90.15" y="118.46" width="1.23" height="9.92" fill="#c8102e"/>
<rect x="106.18" y="118.46" width="1.23" height="9.92" fill="#c8102e"/>
<rect x="117.28" y="118.46" width="4.93" height="9.92" fill="#c8102e"/>
<rect x="133.30" y="118.46" width="1.23" height="9.92" fill="#c8102e"/>
<rect x="140.70" y="118.46" width="1.23" height="9.92" fill="#c8102e"/>
<rect x="146.87" y="118.46" width="1.23" height="9.92" fill="#c8102e"/>
<rect x="155.50" y="118.46" width="1.23" height="9.92" fill="#c8102e"/>
<rect x="165.36" y="118.46" width="1.23" height="9.92" fill="#c8102e"/>
<rect x="186.32" y="118.46" width="1.23" height="9.92" fill="#c8102e"/>
<rect x="188.79" y="118.46" width="1.23" height="9.92" fill="#c8102e"/>
<rect x="191.25" y="118.46" width="2.47" height="9.92" fill="#c8102e"/>
<rect x="203.58" y="118.46" width="2.47" height="9.92" fill="#c8102e"/>
<rect x="222.07" y="118.46" width="2.47" height="9.92" fill="#c8102e"/>
<rect x="231.94" y="118.46" width="2.47" height="9.92" fill="#c8102e"/>
<rect x="241.80" y="118.46" width="1.23" height="9.92" fill="#c8102e"/>
<rect x="257.83" y="118.46" width="2.47" height="9.92" fill="#c8102e"/>
<rect x="263.99" y="118.46" width="3.70" height="9.92" fill="#c8102e"/>
<rect x="287.42" y="118.46" width="2.47" height="9.92" fill="#c8102e"/>
<rect x="308.38" y="118.46" width="2.47" height="9.92" fill="#c8102e"/>
<rect x="329.34" y="118.46" width="1.23" height="9.92" fill="#c8102e"/>
<rect x="333.04" y="118.46" width="2.47" height="9.92" fill="#c8102e"/>
<rect x="346.60" y="118.46" width="1.23" height="9.92" fill="#c8102e"/>
<rect x="377.42" y="118.46" width="2.47" height="9.92" fill="#c8102e"/>
<rect x="382.35" y="118.46" width="1.23" height="9.92" fill="#9a8fd4"/>
<rect x="392.22" y="118.46" width="1.23" height="9.92" fill="#c8102e"/>
<rect x="424.27" y="118.46" width="4.93" height="9.92" fill="#c8102e"/>
<rect x="51.93" y="128.98" width="1.23" height="9.92" fill="#c8102e"/>
<rect x="59.33" y="128.98" width="1.23" height="9.92" fill="#c8102e"/>
<rect x="67.96" y="128.98" width="1.23" height="9.92" fill="#c8102e"/>
<rect x="77.82" y="128.98" width="1.23" height="9.92" fill="#c8102e"/>
<rect x="81.52" y="128.98" width="2.47" height="9.92" fill="#c8102e"/>
<rect x="90.15" y="128.98" width="2.47" height="9.92" fill="#c8102e"/>
<rect x="116.04" y="128.98" width="1.23" height="9.92" fill="#c8102e"/>
<rect x="120.98" y="128.98" width="1.23" height="9.92" fill="#c8102e"/>
<rect x="134.54" y="128.98" width="1.23" height="9.92" fill="#c8102e"/>
<rect x="139.47" y="128.98" width="1.23" height="9.92" fill="#c8102e"/>
<rect x="146.87" y="128.98" width="3.70" height="9.92" fill="#c8102e"/>
<rect x="167.83" y="128.98" width="2.47" height="9.92" fill="#c8102e"/>
<rect x="198.65" y="128.98" width="1.23" height="9.92" fill="#c8102e"/>
<rect x="206.05" y="128.98" width="2.47" height="9.92" fill="#9a8fd4"/>
<rect x="224.54" y="128.98" width="1.23" height="9.92" fill="#c8102e"/>
<rect x="229.47" y="128.98" width="1.23" height="9.92" fill="#1f4e8a"/>
<rect x="241.80" y="128.98" width="3.70" height="9.92" fill="#c8102e"/>
<rect x="251.66" y="128.98" width="1.23" height="9.92" fill="#c8102e"/>
<rect x="260.30" y="128.98" width="1.23" height="9.92" fill="#c8102e"/>
<rect x="263.99" y="128.98" width="1.23" height="9.92" fill="#c8102e"/>
<rect x="267.69" y="128.98" width="3.70" height="9.92" fill="#c8102e"/>
<rect x="283.72" y="128.98" width="1.23" height="9.92" fill="#c8102e"/>
<rect x="304.68" y="128.98" width="1.23" height="9.92" fill="#2ea6de"/>
<rect x="308.38" y="128.98" width="2.47" height="9.92" fill="#c8102e"/>
<rect x="310.84" y="128.98" width="1.23" height="9.92" fill="#9a8fd4"/>
<rect x="347.83" y="128.98" width="4.93" height="9.92" fill="#c8102e"/>
<rect x="382.35" y="128.98" width="1.23" height="9.92" fill="#c8102e"/>
<rect x="392.22" y="128.98" width="1.23" height="9.92" fill="#c8102e"/>
<rect x="403.31" y="128.98" width="1.23" height="9.92" fill="#c8102e"/>
<rect x="413.18" y="128.98" width="1.23" height="9.92" fill="#c8102e"/>
<rect x="424.27" y="128.98" width="1.23" height="9.92" fill="#c8102e"/>
<rect x="429.20" y="128.98" width="1.23" height="9.92" fill="#9a8fd4"/>
<rect x="47.00" y="139.50" width="1.23" height="9.92" fill="#c8102e"/>
<rect x="49.47" y="139.50" width="1.23" height="9.92" fill="#c8102e"/>
<rect x="55.63" y="139.50" width="1.23" height="9.92" fill="#c8102e"/>
<rect x="67.96" y="139.50" width="1.23" height="9.92" fill="#c8102e"/>
<rect x="71.66" y="139.50" width="2.47" height="9.92" fill="#c8102e"/>
<rect x="81.52" y="139.50" width="1.23" height="9.92" fill="#c8102e"/>
<rect x="112.34" y="139.50" width="1.23" height="9.92" fill="#c8102e"/>
<rect x="122.21" y="139.50" width="3.70" height="9.92" fill="#c8102e"/>
<rect x="134.54" y="139.50" width="1.23" height="9.92" fill="#c8102e"/>
<rect x="146.87" y="139.50" width="1.23" height="9.92" fill="#c8102e"/>
<rect x="151.80" y="139.50" width="1.23" height="9.92" fill="#c8102e"/>
<rect x="155.50" y="139.50" width="2.47" height="9.92" fill="#c8102e"/>
<rect x="198.65" y="139.50" width="3.70" height="9.92" fill="#c8102e"/>
<rect x="206.05" y="139.50" width="1.23" height="9.92" fill="#c8102e"/>
<rect x="238.10" y="139.50" width="1.23" height="9.92" fill="#c8102e"/>
<rect x="286.19" y="139.50" width="1.23" height="9.92" fill="#f6bd1b"/>
<rect x="291.12" y="139.50" width="1.23" height="9.92" fill="#c8102e"/>
<rect x="297.28" y="139.50" width="1.23" height="9.92" fill="#c8102e"/>
<rect x="304.68" y="139.50" width="1.23" height="9.92" fill="#c8102e"/>
<rect x="308.38" y="139.50" width="1.23" height="9.92" fill="#f29300"/>
<rect x="310.84" y="139.50" width="6.16" height="9.92" fill="#c8102e"/>
<rect x="324.41" y="139.50" width="1.23" height="9.92" fill="#c8102e"/>
<rect x="328.11" y="139.50" width="1.23" height="9.92" fill="#c8102e"/>
<rect x="335.50" y="139.50" width="1.23" height="9.92" fill="#c8102e"/>
<rect x="346.60" y="139.50" width="3.70" height="9.92" fill="#c8102e"/>
<rect x="382.35" y="139.50" width="1.23" height="9.92" fill="#c8102e"/>
<rect x="392.22" y="139.50" width="1.23" height="9.92" fill="#9a8fd4"/>
<rect x="395.92" y="139.50" width="1.23" height="9.92" fill="#c8102e"/>
<rect x="402.08" y="139.50" width="1.23" height="9.92" fill="#c8102e"/>
<rect x="424.27" y="139.50" width="1.23" height="9.92" fill="#2ea6de"/>
<rect x="427.97" y="139.50" width="3.70" height="9.92" fill="#c8102e"/>
<rect x="51.93" y="150.02" width="1.23" height="9.92" fill="#f6bd1b"/>
<rect x="61.80" y="150.02" width="1.23" height="9.92" fill="#c8102e"/>
<rect x="72.89" y="150.02" width="1.23" height="9.92" fill="#c8102e"/>
<rect x="77.82" y="150.02" width="1.23" height="9.92" fill="#c8102e"/>
<rect x="82.75" y="150.02" width="1.23" height="9.92" fill="#9a8fd4"/>
<rect x="91.39" y="150.02" width="1.23" height="9.92" fill="#c8102e"/>
<rect x="104.95" y="150.02" width="1.23" height="9.92" fill="#c8102e"/>
<rect x="114.81" y="150.02" width="2.47" height="9.92" fill="#c8102e"/>
<rect x="124.67" y="150.02" width="1.23" height="9.92" fill="#c8102e"/>
<rect x="135.77" y="150.02" width="1.23" height="9.92" fill="#c8102e"/>
<rect x="146.87" y="150.02" width="1.23" height="9.92" fill="#2ea6de"/>
<rect x="156.73" y="150.02" width="3.70" height="9.92" fill="#c8102e"/>
<rect x="171.52" y="150.02" width="2.47" height="9.92" fill="#c8102e"/>
<rect x="194.95" y="150.02" width="1.23" height="9.92" fill="#c8102e"/>
<rect x="202.35" y="150.02" width="1.23" height="9.92" fill="#f6bd1b"/>
<rect x="222.07" y="150.02" width="3.70" height="9.92" fill="#c8102e"/>
<rect x="231.94" y="150.02" width="2.47" height="9.92" fill="#c8102e"/>
<rect x="234.40" y="150.02" width="1.23" height="9.92" fill="#9a8fd4"/>
<rect x="239.34" y="150.02" width="1.23" height="9.92" fill="#c8102e"/>
<rect x="252.90" y="150.02" width="2.47" height="9.92" fill="#c8102e"/>
<rect x="280.02" y="150.02" width="1.23" height="9.92" fill="#c8102e"/>
<rect x="283.72" y="150.02" width="1.23" height="9.92" fill="#c8102e"/>
<rect x="298.52" y="150.02" width="1.23" height="9.92" fill="#c8102e"/>
<rect x="308.38" y="150.02" width="1.23" height="9.92" fill="#c8102e"/>
<rect x="325.64" y="150.02" width="1.23" height="9.92" fill="#c8102e"/>
<rect x="335.50" y="150.02" width="1.23" height="9.92" fill="#f29300"/>
<rect x="337.97" y="150.02" width="1.23" height="9.92" fill="#c8102e"/>
<rect x="342.90" y="150.02" width="1.23" height="9.92" fill="#1f4e8a"/>
<rect x="347.83" y="150.02" width="1.23" height="9.92" fill="#c8102e"/>
<rect x="352.76" y="150.02" width="1.23" height="9.92" fill="#c8102e"/>
<rect x="410.71" y="150.02" width="1.23" height="9.92" fill="#c8102e"/>
<rect x="413.18" y="150.02" width="2.47" height="9.92" fill="#c8102e"/>
<rect x="425.51" y="150.02" width="1.23" height="9.92" fill="#c8102e"/>
<rect x="77.82" y="160.54" width="1.23" height="9.92" fill="#c8102e"/>
<rect x="91.39" y="160.54" width="3.70" height="9.92" fill="#c8102e"/>
<rect x="106.18" y="160.54" width="1.23" height="9.92" fill="#3aa63c"/>
<rect x="111.11" y="160.54" width="1.23" height="9.92" fill="#c8102e"/>
<rect x="116.04" y="160.54" width="1.23" height="9.92" fill="#c8102e"/>
<rect x="125.91" y="160.54" width="1.23" height="9.92" fill="#c8102e"/>
<rect x="135.77" y="160.54" width="1.23" height="9.92" fill="#c8102e"/>
<rect x="141.93" y="160.54" width="1.23" height="9.92" fill="#c8102e"/>
<rect x="144.40" y="160.54" width="1.23" height="9.92" fill="#c8102e"/>
<rect x="153.03" y="160.54" width="1.23" height="9.92" fill="#c8102e"/>
<rect x="157.96" y="160.54" width="1.23" height="9.92" fill="#c8102e"/>
<rect x="202.35" y="160.54" width="1.23" height="9.92" fill="#c8102e"/>
<rect x="208.51" y="160.54" width="2.47" height="9.92" fill="#c8102e"/>
<rect x="229.47" y="160.54" width="1.23" height="9.92" fill="#c8102e"/>
<rect x="236.87" y="160.54" width="1.23" height="9.92" fill="#c8102e"/>
<rect x="245.50" y="160.54" width="1.23" height="9.92" fill="#c8102e"/>
<rect x="254.13" y="160.54" width="1.23" height="9.92" fill="#9a8fd4"/>
<rect x="255.36" y="160.54" width="1.23" height="9.92" fill="#c8102e"/>
<rect x="261.53" y="160.54" width="1.23" height="9.92" fill="#c8102e"/>
<rect x="280.02" y="160.54" width="1.23" height="9.92" fill="#c8102e"/>
<rect x="304.68" y="160.54" width="1.23" height="9.92" fill="#c8102e"/>
<rect x="309.61" y="160.54" width="1.23" height="9.92" fill="#c8102e"/>
<rect x="328.11" y="160.54" width="1.23" height="9.92" fill="#c8102e"/>
<rect x="331.80" y="160.54" width="1.23" height="9.92" fill="#c8102e"/>
<rect x="340.43" y="160.54" width="1.23" height="9.92" fill="#c8102e"/>
<rect x="346.60" y="160.54" width="1.23" height="9.92" fill="#c8102e"/>
<rect x="351.53" y="160.54" width="1.23" height="9.92" fill="#c8102e"/>
<rect x="381.12" y="160.54" width="1.23" height="9.92" fill="#c8102e"/>
<rect x="383.59" y="160.54" width="2.47" height="9.92" fill="#c8102e"/>
<rect x="395.92" y="160.54" width="1.23" height="9.92" fill="#c8102e"/>
<rect x="404.55" y="160.54" width="2.47" height="9.92" fill="#c8102e"/>
<rect x="413.18" y="160.54" width="1.23" height="9.92" fill="#2ea6de"/>
<rect x="415.64" y="160.54" width="1.23" height="9.92" fill="#c8102e"/>
<rect x="426.74" y="160.54" width="1.23" height="9.92" fill="#c8102e"/>
<rect x="50.70" y="171.06" width="1.23" height="9.92" fill="#c8102e"/>
<rect x="60.56" y="171.06" width="1.23" height="9.92" fill="#c8102e"/>
<rect x="66.73" y="171.06" width="3.70" height="9.92" fill="#c8102e"/>
<rect x="81.52" y="171.06" width="1.23" height="9.92" fill="#c8102e"/>
<rect x="91.39" y="171.06" width="1.23" height="9.92" fill="#c8102e"/>
<rect x="93.85" y="171.06" width="1.23" height="9.92" fill="#c8102e"/>
<rect x="116.04" y="171.06" width="1.23" height="9.92" fill="#c8102e"/>
<rect x="123.44" y="171.06" width="1.23" height="9.92" fill="#c8102e"/>
<rect x="151.80" y="171.06" width="1.23" height="9.92" fill="#1f4e8a"/>
<rect x="153.03" y="171.06" width="2.47" height="9.92" fill="#c8102e"/>
<rect x="160.43" y="171.06" width="1.23" height="9.92" fill="#c8102e"/>
<rect x="191.25" y="171.06" width="1.23" height="9.92" fill="#c8102e"/>
<rect x="196.18" y="171.06" width="1.23" height="9.92" fill="#c8102e"/>
<rect x="198.65" y="171.06" width="1.23" height="9.92" fill="#c8102e"/>
<rect x="203.58" y="171.06" width="3.70" height="9.92" fill="#c8102e"/>
<rect x="218.38" y="171.06" width="1.23" height="9.92" fill="#c8102e"/>
<rect x="235.64" y="171.06" width="1.23" height="9.92" fill="#c8102e"/>
<rect x="238.10" y="171.06" width="4.93" height="9.92" fill="#c8102e"/>
<rect x="246.73" y="171.06" width="1.23" height="9.92" fill="#c8102e"/>
<rect x="267.69" y="171.06" width="1.23" height="9.92" fill="#c8102e"/>
<rect x="272.62" y="171.06" width="1.23" height="9.92" fill="#c8102e"/>
<rect x="284.95" y="171.06" width="1.23" height="9.92" fill="#c8102e"/>
<rect x="291.12" y="171.06" width="1.23" height="9.92" fill="#c8102e"/>
<rect x="304.68" y="171.06" width="1.23" height="9.92" fill="#c8102e"/>
<rect x="317.01" y="171.06" width="1.23" height="9.92" fill="#c8102e"/>
<rect x="339.20" y="171.06" width="1.23" height="9.92" fill="#9a8fd4"/>
<rect x="342.90" y="171.06" width="1.23" height="9.92" fill="#c8102e"/>
<rect x="351.53" y="171.06" width="1.23" height="9.92" fill="#c8102e"/>
<rect x="356.46" y="171.06" width="1.23" height="9.92" fill="#c8102e"/>
<rect x="378.66" y="171.06" width="1.23" height="9.92" fill="#c8102e"/>
<rect x="383.59" y="171.06" width="1.23" height="9.92" fill="#c8102e"/>
<rect x="394.68" y="171.06" width="1.23" height="9.92" fill="#c8102e"/>
<rect x="407.01" y="171.06" width="1.23" height="9.92" fill="#c8102e"/>
<rect x="413.18" y="171.06" width="1.23" height="9.92" fill="#c8102e"/>
<rect x="415.64" y="171.06" width="1.23" height="9.92" fill="#c8102e"/>
<rect x="431.67" y="171.06" width="1.23" height="9.92" fill="#c8102e"/>
<rect x="51.93" y="181.58" width="1.23" height="9.92" fill="#c8102e"/>
<rect x="61.80" y="181.58" width="1.23" height="9.92" fill="#c8102e"/>
<rect x="72.89" y="181.58" width="2.47" height="9.92" fill="#c8102e"/>
<rect x="109.88" y="181.58" width="1.23" height="9.92" fill="#c8102e"/>
<rect x="128.37" y="181.58" width="1.23" height="9.92" fill="#c8102e"/>
<rect x="132.07" y="181.58" width="1.23" height="9.92" fill="#c8102e"/>
<rect x="135.77" y="181.58" width="2.47" height="9.92" fill="#c8102e"/>
<rect x="146.87" y="181.58" width="1.23" height="9.92" fill="#c8102e"/>
<rect x="151.80" y="181.58" width="1.23" height="9.92" fill="#c8102e"/>
<rect x="155.50" y="181.58" width="1.23" height="9.92" fill="#c8102e"/>
<rect x="173.99" y="181.58" width="1.23" height="9.92" fill="#9a8fd4"/>
<rect x="188.79" y="181.58" width="1.23" height="9.92" fill="#f6bd1b"/>
<rect x="192.48" y="181.58" width="1.23" height="9.92" fill="#c8102e"/>
<rect x="210.98" y="181.58" width="1.23" height="9.92" fill="#c8102e"/>
<rect x="235.64" y="181.58" width="1.23" height="9.92" fill="#c8102e"/>
<rect x="241.80" y="181.58" width="2.47" height="9.92" fill="#c8102e"/>
<rect x="273.86" y="181.58" width="2.47" height="9.92" fill="#c8102e"/>
<rect x="300.98" y="181.58" width="1.23" height="9.92" fill="#c8102e"/>
<rect x="304.68" y="181.58" width="4.93" height="9.92" fill="#c8102e"/>
<rect x="310.84" y="181.58" width="1.23" height="9.92" fill="#c8102e"/>
<rect x="330.57" y="181.58" width="1.23" height="9.92" fill="#c8102e"/>
<rect x="333.04" y="181.58" width="1.23" height="9.92" fill="#9a8fd4"/>
<rect x="339.20" y="181.58" width="2.47" height="9.92" fill="#f6bd1b"/>
<rect x="346.60" y="181.58" width="1.23" height="9.92" fill="#c8102e"/>
<rect x="352.76" y="181.58" width="1.23" height="9.92" fill="#c8102e"/>
<rect x="356.46" y="181.58" width="2.47" height="9.92" fill="#c8102e"/>
<rect x="377.42" y="181.58" width="1.23" height="9.92" fill="#c8102e"/>
<rect x="386.05" y="181.58" width="1.23" height="9.92" fill="#c8102e"/>
<rect x="395.92" y="181.58" width="1.23" height="9.92" fill="#c8102e"/>
<rect x="407.01" y="181.58" width="1.23" height="9.92" fill="#c8102e"/>
<rect x="410.71" y="181.58" width="1.23" height="9.92" fill="#c8102e"/>
<rect x="416.88" y="181.58" width="1.23" height="9.92" fill="#c8102e"/>
<rect x="431.67" y="181.58" width="1.23" height="9.92" fill="#c8102e"/>
<rect x="58.10" y="192.10" width="2.47" height="9.92" fill="#a0102a"/>
<rect x="83.99" y="192.10" width="2.47" height="9.92" fill="#c8102e"/>
<rect x="90.15" y="192.10" width="1.23" height="9.92" fill="#c8102e"/>
<rect x="93.85" y="192.10" width="1.23" height="9.92" fill="#f6bd1b"/>
<rect x="104.95" y="192.10" width="1.23" height="9.92" fill="#c8102e"/>
<rect x="138.24" y="192.10" width="1.23" height="9.92" fill="#c8102e"/>
<rect x="176.46" y="192.10" width="1.23" height="9.92" fill="#c8102e"/>
<rect x="183.85" y="192.10" width="2.47" height="9.92" fill="#c8102e"/>
<rect x="191.25" y="192.10" width="1.23" height="9.92" fill="#c8102e"/>
<rect x="196.18" y="192.10" width="1.23" height="9.92" fill="#c8102e"/>
<rect x="208.51" y="192.10" width="1.23" height="9.92" fill="#c8102e"/>
<rect x="212.21" y="192.10" width="1.23" height="9.92" fill="#9a8fd4"/>
<rect x="220.84" y="192.10" width="1.23" height="9.92" fill="#c8102e"/>
<rect x="235.64" y="192.10" width="1.23" height="9.92" fill="#c8102e"/>
<rect x="241.80" y="192.10" width="1.23" height="9.92" fill="#c8102e"/>
<rect x="257.83" y="192.10" width="1.23" height="9.92" fill="#c8102e"/>
<rect x="267.69" y="192.10" width="2.47" height="9.92" fill="#c8102e"/>
<rect x="273.86" y="192.10" width="1.23" height="9.92" fill="#9a8fd4"/>
<rect x="275.09" y="192.10" width="1.23" height="9.92" fill="#c8102e"/>
<rect x="291.12" y="192.10" width="2.47" height="9.92" fill="#c8102e"/>
<rect x="300.98" y="192.10" width="1.23" height="9.92" fill="#c8102e"/>
<rect x="309.61" y="192.10" width="2.47" height="9.92" fill="#c8102e"/>
<rect x="318.24" y="192.10" width="2.47" height="9.92" fill="#9a8fd4"/>
<rect x="347.83" y="192.10" width="1.23" height="9.92" fill="#c8102e"/>
<rect x="352.76" y="192.10" width="1.23" height="9.92" fill="#c8102e"/>
<rect x="370.02" y="192.10" width="1.23" height="9.92" fill="#c8102e"/>
<rect x="372.49" y="192.10" width="1.23" height="9.92" fill="#9a8fd4"/>
<rect x="382.35" y="192.10" width="1.23" height="9.92" fill="#c8102e"/>
<rect x="392.22" y="192.10" width="3.70" height="9.92" fill="#c8102e"/>
<rect x="404.55" y="192.10" width="1.23" height="9.92" fill="#c8102e"/>
<rect x="416.88" y="192.10" width="1.23" height="9.92" fill="#c8102e"/>
<rect x="434.14" y="192.10" width="1.23" height="9.92" fill="#c8102e"/>
<rect x="67.96" y="202.62" width="1.23" height="9.92" fill="#c8102e"/>
<rect x="77.82" y="202.62" width="1.23" height="9.92" fill="#c8102e"/>
<rect x="90.15" y="202.62" width="3.70" height="9.92" fill="#c8102e"/>
<rect x="96.32" y="202.62" width="2.47" height="9.92" fill="#c8102e"/>
<rect x="109.88" y="202.62" width="2.47" height="9.92" fill="#c8102e"/>
<rect x="116.04" y="202.62" width="1.23" height="9.92" fill="#c8102e"/>
<rect x="125.91" y="202.62" width="1.23" height="9.92" fill="#c8102e"/>
<rect x="169.06" y="202.62" width="1.23" height="9.92" fill="#c8102e"/>
<rect x="177.69" y="202.62" width="1.23" height="9.92" fill="#c8102e"/>
<rect x="198.65" y="202.62" width="1.23" height="9.92" fill="#c8102e"/>
<rect x="201.11" y="202.62" width="1.23" height="9.92" fill="#c8102e"/>
<rect x="213.44" y="202.62" width="1.23" height="9.92" fill="#c8102e"/>
<rect x="228.24" y="202.62" width="1.23" height="9.92" fill="#2ea6de"/>
<rect x="230.70" y="202.62" width="1.23" height="9.92" fill="#1f4e8a"/>
<rect x="235.64" y="202.62" width="1.23" height="9.92" fill="#c8102e"/>
<rect x="244.27" y="202.62" width="1.23" height="9.92" fill="#c8102e"/>
<rect x="266.46" y="202.62" width="1.23" height="9.92" fill="#c8102e"/>
<rect x="276.32" y="202.62" width="1.23" height="9.92" fill="#c8102e"/>
<rect x="283.72" y="202.62" width="1.23" height="9.92" fill="#c8102e"/>
<rect x="291.12" y="202.62" width="1.23" height="9.92" fill="#c8102e"/>
<rect x="298.52" y="202.62" width="1.23" height="9.92" fill="#c8102e"/>
<rect x="312.08" y="202.62" width="1.23" height="9.92" fill="#c8102e"/>
<rect x="324.41" y="202.62" width="1.23" height="9.92" fill="#c8102e"/>
<rect x="346.60" y="202.62" width="1.23" height="9.92" fill="#c8102e"/>
<rect x="352.76" y="202.62" width="1.23" height="9.92" fill="#c8102e"/>
<rect x="355.23" y="202.62" width="2.47" height="9.92" fill="#c8102e"/>
<rect x="371.26" y="202.62" width="1.23" height="9.92" fill="#f6bd1b"/>
<rect x="384.82" y="202.62" width="1.23" height="9.92" fill="#c8102e"/>
<rect x="387.29" y="202.62" width="1.23" height="9.92" fill="#c8102e"/>
<rect x="390.98" y="202.62" width="1.23" height="9.92" fill="#c8102e"/>
<rect x="410.71" y="202.62" width="1.23" height="9.92" fill="#c8102e"/>
<rect x="434.14" y="202.62" width="1.23" height="9.92" fill="#c8102e"/>
<rect x="47.00" y="213.14" width="1.23" height="9.92" fill="#f6bd1b"/>
<rect x="56.86" y="213.14" width="1.23" height="9.92" fill="#c8102e"/>
<rect x="69.19" y="213.14" width="1.23" height="9.92" fill="#c8102e"/>
<rect x="81.52" y="213.14" width="1.23" height="9.92" fill="#c8102e"/>
<rect x="87.69" y="213.14" width="1.23" height="9.92" fill="#c8102e"/>
<rect x="125.91" y="213.14" width="1.23" height="9.92" fill="#c8102e"/>
<rect x="130.84" y="213.14" width="2.47" height="9.92" fill="#f29300"/>
<rect x="146.87" y="213.14" width="1.23" height="9.92" fill="#c8102e"/>
<rect x="151.80" y="213.14" width="1.23" height="9.92" fill="#c8102e"/>
<rect x="155.50" y="213.14" width="2.47" height="9.92" fill="#1f4e8a"/>
<rect x="170.29" y="213.14" width="1.23" height="9.92" fill="#1f4e8a"/>
<rect x="183.85" y="213.14" width="1.23" height="9.92" fill="#c8102e"/>
<rect x="198.65" y="213.14" width="1.23" height="9.92" fill="#c8102e"/>
<rect x="204.81" y="213.14" width="1.23" height="9.92" fill="#c8102e"/>
<rect x="223.31" y="213.14" width="2.47" height="9.92" fill="#c8102e"/>
<rect x="231.94" y="213.14" width="1.23" height="9.92" fill="#c8102e"/>
<rect x="241.80" y="213.14" width="1.23" height="9.92" fill="#c8102e"/>
<rect x="247.97" y="213.14" width="1.23" height="9.92" fill="#c8102e"/>
<rect x="252.90" y="213.14" width="1.23" height="9.92" fill="#c8102e"/>
<rect x="257.83" y="213.14" width="1.23" height="9.92" fill="#c8102e"/>
<rect x="267.69" y="213.14" width="1.23" height="9.92" fill="#c8102e"/>
<rect x="298.52" y="213.14" width="1.23" height="9.92" fill="#c8102e"/>
<rect x="300.98" y="213.14" width="1.23" height="9.92" fill="#c8102e"/>
<rect x="312.08" y="213.14" width="2.47" height="9.92" fill="#a0102a"/>
<rect x="331.80" y="213.14" width="1.23" height="9.92" fill="#c8102e"/>
<rect x="347.83" y="213.14" width="1.23" height="9.92" fill="#c8102e"/>
<rect x="355.23" y="213.14" width="1.23" height="9.92" fill="#c8102e"/>
<rect x="371.26" y="213.14" width="1.23" height="9.92" fill="#c8102e"/>
<rect x="381.12" y="213.14" width="1.23" height="9.92" fill="#c8102e"/>
<rect x="413.18" y="213.14" width="1.23" height="9.92" fill="#9a8fd4"/>
<rect x="418.11" y="213.14" width="1.23" height="9.92" fill="#c8102e"/>
<rect x="424.27" y="213.14" width="3.70" height="9.92" fill="#c8102e"/>
<rect x="432.90" y="213.14" width="1.23" height="9.92" fill="#c8102e"/>
<rect x="54.40" y="223.66" width="1.23" height="9.92" fill="#c8102e"/>
<rect x="56.86" y="223.66" width="1.23" height="9.92" fill="#c8102e"/>
<rect x="63.03" y="223.66" width="1.23" height="9.92" fill="#c8102e"/>
<rect x="74.12" y="223.66" width="1.23" height="9.92" fill="#c8102e"/>
<rect x="79.06" y="223.66" width="1.23" height="9.92" fill="#c8102e"/>
<rect x="81.52" y="223.66" width="1.23" height="9.92" fill="#c8102e"/>
<rect x="93.85" y="223.66" width="2.47" height="9.92" fill="#a0102a"/>
<rect x="104.95" y="223.66" width="2.47" height="9.92" fill="#c8102e"/>
<rect x="116.04" y="223.66" width="1.23" height="9.92" fill="#c8102e"/>
<rect x="138.24" y="223.66" width="1.23" height="9.92" fill="#c8102e"/>
<rect x="155.50" y="223.66" width="1.23" height="9.92" fill="#2ea6de"/>
<rect x="157.96" y="223.66" width="1.23" height="9.92" fill="#c8102e"/>
<rect x="178.92" y="223.66" width="1.23" height="9.92" fill="#c8102e"/>
<rect x="185.09" y="223.66" width="1.23" height="9.92" fill="#c8102e"/>
<rect x="198.65" y="223.66" width="1.23" height="9.92" fill="#c8102e"/>
<rect x="213.44" y="223.66" width="1.23" height="9.92" fill="#c8102e"/>
<rect x="222.07" y="223.66" width="1.23" height="9.92" fill="#9a8fd4"/>
<rect x="231.94" y="223.66" width="1.23" height="9.92" fill="#9a8fd4"/>
<rect x="239.34" y="223.66" width="1.23" height="9.92" fill="#c8102e"/>
<rect x="250.43" y="223.66" width="1.23" height="9.92" fill="#c8102e"/>
<rect x="254.13" y="223.66" width="2.47" height="9.92" fill="#c8102e"/>
<rect x="259.06" y="223.66" width="1.23" height="9.92" fill="#c8102e"/>
<rect x="277.56" y="223.66" width="1.23" height="9.92" fill="#c8102e"/>
<rect x="293.58" y="223.66" width="1.23" height="9.92" fill="#c8102e"/>
<rect x="317.01" y="223.66" width="1.23" height="9.92" fill="#9a8fd4"/>
<rect x="335.50" y="223.66" width="1.23" height="9.92" fill="#9a8fd4"/>
<rect x="376.19" y="223.66" width="1.23" height="9.92" fill="#c8102e"/>
<rect x="388.52" y="223.66" width="1.23" height="9.92" fill="#c8102e"/>
<rect x="398.38" y="223.66" width="1.23" height="9.92" fill="#c8102e"/>
<rect x="403.31" y="223.66" width="1.23" height="9.92" fill="#c8102e"/>
<rect x="414.41" y="223.66" width="1.23" height="9.92" fill="#c8102e"/>
<rect x="426.74" y="223.66" width="2.47" height="9.92" fill="#a0102a"/>
<rect x="435.37" y="223.66" width="1.23" height="9.92" fill="#c8102e"/>
<rect x="51.93" y="234.18" width="1.23" height="9.92" fill="#c8102e"/>
<rect x="55.63" y="234.18" width="1.23" height="9.92" fill="#9a8fd4"/>
<rect x="61.80" y="234.18" width="1.23" height="9.92" fill="#c8102e"/>
<rect x="76.59" y="234.18" width="1.23" height="9.92" fill="#c8102e"/>
<rect x="81.52" y="234.18" width="3.70" height="9.92" fill="#c8102e"/>
<rect x="96.32" y="234.18" width="1.23" height="9.92" fill="#9a8fd4"/>
<rect x="104.95" y="234.18" width="1.23" height="9.92" fill="#f6bd1b"/>
<rect x="111.11" y="234.18" width="1.23" height="9.92" fill="#f6bd1b"/>
<rect x="112.34" y="234.18" width="1.23" height="9.92" fill="#1f4e8a"/>
<rect x="135.77" y="234.18" width="1.23" height="9.92" fill="#c8102e"/>
<rect x="148.10" y="234.18" width="1.23" height="9.92" fill="#f6bd1b"/>
<rect x="175.22" y="234.18" width="1.23" height="9.92" fill="#c8102e"/>
<rect x="194.95" y="234.18" width="1.23" height="9.92" fill="#c8102e"/>
<rect x="201.11" y="234.18" width="1.23" height="9.92" fill="#f6bd1b"/>
<rect x="220.84" y="234.18" width="1.23" height="9.92" fill="#1f4e8a"/>
<rect x="224.54" y="234.18" width="1.23" height="9.92" fill="#a8c48c"/>
<rect x="228.24" y="234.18" width="1.23" height="9.92" fill="#c8102e"/>
<rect x="244.27" y="234.18" width="1.23" height="9.92" fill="#a8c48c"/>
<rect x="249.20" y="234.18" width="1.23" height="9.92" fill="#c8102e"/>
<rect x="256.60" y="234.18" width="1.23" height="9.92" fill="#c8102e"/>
<rect x="272.62" y="234.18" width="1.23" height="9.92" fill="#c8102e"/>
<rect x="280.02" y="234.18" width="1.23" height="9.92" fill="#c8102e"/>
<rect x="282.49" y="234.18" width="1.23" height="9.92" fill="#1f4e8a"/>
<rect x="289.89" y="234.18" width="2.47" height="9.92" fill="#c8102e"/>
<rect x="293.58" y="234.18" width="1.23" height="9.92" fill="#c8102e"/>
<rect x="299.75" y="234.18" width="2.47" height="9.92" fill="#f6bd1b"/>
<rect x="331.80" y="234.18" width="1.23" height="9.92" fill="#c8102e"/>
<rect x="335.50" y="234.18" width="1.23" height="9.92" fill="#c8102e"/>
<rect x="340.43" y="234.18" width="2.47" height="9.92" fill="#1f4e8a"/>
<rect x="344.13" y="234.18" width="1.23" height="9.92" fill="#c8102e"/>
<rect x="381.12" y="234.18" width="1.23" height="9.92" fill="#c8102e"/>
<rect x="388.52" y="234.18" width="1.23" height="9.92" fill="#9a8fd4"/>
<rect x="395.92" y="234.18" width="1.23" height="9.92" fill="#c8102e"/>
<rect x="397.15" y="234.18" width="1.23" height="9.92" fill="#1f4e8a"/>
<rect x="404.55" y="234.18" width="1.23" height="9.92" fill="#c8102e"/>
<rect x="407.01" y="234.18" width="1.23" height="9.92" fill="#c8102e"/>
<rect x="61.80" y="244.70" width="2.47" height="9.92" fill="#9a8fd4"/>
<rect x="65.49" y="244.70" width="1.23" height="9.92" fill="#9a8fd4"/>
<rect x="71.66" y="244.70" width="1.23" height="9.92" fill="#c8102e"/>
<rect x="80.29" y="244.70" width="3.70" height="9.92" fill="#9a8fd4"/>
<rect x="83.99" y="244.70" width="1.23" height="9.92" fill="#2ea6de"/>
<rect x="85.22" y="244.70" width="1.23" height="9.92" fill="#9a8fd4"/>
<rect x="92.62" y="244.70" width="1.23" height="9.92" fill="#9a8fd4"/>
<rect x="97.55" y="244.70" width="1.23" height="9.92" fill="#9a8fd4"/>
<rect x="114.81" y="244.70" width="1.23" height="9.92" fill="#c8102e"/>
<rect x="175.22" y="244.70" width="1.23" height="9.92" fill="#c8102e"/>
<rect x="180.16" y="244.70" width="1.23" height="9.92" fill="#f6bd1b"/>
<rect x="188.79" y="244.70" width="1.23" height="9.92" fill="#f29300"/>
<rect x="196.18" y="244.70" width="1.23" height="9.92" fill="#c8102e"/>
<rect x="202.35" y="244.70" width="1.23" height="9.92" fill="#9a8fd4"/>
<rect x="207.28" y="244.70" width="1.23" height="9.92" fill="#9a8fd4"/>
<rect x="213.44" y="244.70" width="1.23" height="9.92" fill="#1f4e8a"/>
<rect x="251.66" y="244.70" width="1.23" height="9.92" fill="#1f4e8a"/>
<rect x="278.79" y="244.70" width="1.23" height="9.92" fill="#c8102e"/>
<rect x="281.25" y="244.70" width="2.47" height="9.92" fill="#f29300"/>
<rect x="289.89" y="244.70" width="1.23" height="9.92" fill="#c8102e"/>
<rect x="292.35" y="244.70" width="1.23" height="9.92" fill="#a8c48c"/>
<rect x="296.05" y="244.70" width="1.23" height="9.92" fill="#c8102e"/>
<rect x="299.75" y="244.70" width="1.23" height="9.92" fill="#f29300"/>
<rect x="300.98" y="244.70" width="2.47" height="9.92" fill="#c8102e"/>
<rect x="325.64" y="244.70" width="1.23" height="9.92" fill="#c8102e"/>
<rect x="372.49" y="244.70" width="1.23" height="9.92" fill="#f29300"/>
<rect x="374.96" y="244.70" width="1.23" height="9.92" fill="#a8c48c"/>
<rect x="379.89" y="244.70" width="1.23" height="9.92" fill="#f6bd1b"/>
<rect x="419.34" y="244.70" width="1.23" height="9.92" fill="#c8102e"/>
<rect x="436.60" y="244.70" width="1.23" height="9.92" fill="#9a8fd4"/>
<rect x="55.63" y="255.22" width="1.23" height="9.92" fill="#9a8fd4"/>
<rect x="61.80" y="255.22" width="1.23" height="9.92" fill="#c8102e"/>
<rect x="72.89" y="255.22" width="1.23" height="9.92" fill="#c8102e"/>
<rect x="81.52" y="255.22" width="1.23" height="9.92" fill="#c8102e"/>
<rect x="92.62" y="255.22" width="1.23" height="9.92" fill="#c8102e"/>
<rect x="98.78" y="255.22" width="2.47" height="9.92" fill="#a0102a"/>
<rect x="122.21" y="255.22" width="1.23" height="9.92" fill="#c8102e"/>
<rect x="133.30" y="255.22" width="1.23" height="9.92" fill="#c8102e"/>
<rect x="141.93" y="255.22" width="1.23" height="9.92" fill="#c8102e"/>
<rect x="145.63" y="255.22" width="1.23" height="9.92" fill="#c8102e"/>
<rect x="151.80" y="255.22" width="1.23" height="9.92" fill="#c8102e"/>
<rect x="154.26" y="255.22" width="2.47" height="9.92" fill="#a0102a"/>
<rect x="188.79" y="255.22" width="1.23" height="9.92" fill="#c8102e"/>
<rect x="207.28" y="255.22" width="1.23" height="9.92" fill="#c8102e"/>
<rect x="229.47" y="255.22" width="1.23" height="9.92" fill="#c8102e"/>
<rect x="245.50" y="255.22" width="2.47" height="9.92" fill="#f29300"/>
<rect x="247.97" y="255.22" width="2.47" height="9.92" fill="#c8102e"/>
<rect x="270.16" y="255.22" width="1.23" height="9.92" fill="#c8102e"/>
<rect x="281.25" y="255.22" width="1.23" height="9.92" fill="#9a8fd4"/>
<rect x="289.89" y="255.22" width="3.70" height="9.92" fill="#c8102e"/>
<rect x="296.05" y="255.22" width="1.23" height="9.92" fill="#c8102e"/>
<rect x="300.98" y="255.22" width="1.23" height="9.92" fill="#9a8fd4"/>
<rect x="318.24" y="255.22" width="1.23" height="9.92" fill="#c8102e"/>
<rect x="320.71" y="255.22" width="1.23" height="9.92" fill="#c8102e"/>
<rect x="336.74" y="255.22" width="2.47" height="9.92" fill="#a0102a"/>
<rect x="355.23" y="255.22" width="1.23" height="9.92" fill="#c8102e"/>
<rect x="358.93" y="255.22" width="1.23" height="9.92" fill="#c8102e"/>
<rect x="376.19" y="255.22" width="1.23" height="9.92" fill="#c8102e"/>
<rect x="413.18" y="255.22" width="1.23" height="9.92" fill="#c8102e"/>
<rect x="436.60" y="255.22" width="1.23" height="9.92" fill="#9a8fd4"/>
<rect x="63.03" y="265.74" width="1.23" height="9.92" fill="#c8102e"/>
<rect x="67.96" y="265.74" width="1.23" height="9.92" fill="#c8102e"/>
<rect x="80.29" y="265.74" width="1.23" height="9.92" fill="#c8102e"/>
<rect x="83.99" y="265.74" width="1.23" height="9.92" fill="#c8102e"/>
<rect x="90.15" y="265.74" width="1.23" height="9.92" fill="#c8102e"/>
<rect x="101.25" y="265.74" width="1.23" height="9.92" fill="#c8102e"/>
<rect x="106.18" y="265.74" width="1.23" height="9.92" fill="#c8102e"/>
<rect x="108.65" y="265.74" width="1.23" height="9.92" fill="#c8102e"/>
<rect x="112.34" y="265.74" width="1.23" height="9.92" fill="#c8102e"/>
<rect x="128.37" y="265.74" width="1.23" height="9.92" fill="#c8102e"/>
<rect x="133.30" y="265.74" width="1.23" height="9.92" fill="#c8102e"/>
<rect x="137.00" y="265.74" width="1.23" height="9.92" fill="#c8102e"/>
<rect x="141.93" y="265.74" width="1.23" height="9.92" fill="#c8102e"/>
<rect x="151.80" y="265.74" width="2.47" height="9.92" fill="#a0102a"/>
<rect x="176.46" y="265.74" width="1.23" height="9.92" fill="#c8102e"/>
<rect x="178.92" y="265.74" width="1.23" height="9.92" fill="#c8102e"/>
<rect x="207.28" y="265.74" width="1.23" height="9.92" fill="#c8102e"/>
<rect x="241.80" y="265.74" width="1.23" height="9.92" fill="#c8102e"/>
<rect x="268.93" y="265.74" width="1.23" height="9.92" fill="#c8102e"/>
<rect x="275.09" y="265.74" width="1.23" height="9.92" fill="#c8102e"/>
<rect x="293.58" y="265.74" width="1.23" height="9.92" fill="#c8102e"/>
<rect x="297.28" y="265.74" width="1.23" height="9.92" fill="#c8102e"/>
<rect x="310.84" y="265.74" width="1.23" height="9.92" fill="#c8102e"/>
<rect x="314.54" y="265.74" width="1.23" height="9.92" fill="#c8102e"/>
<rect x="318.24" y="265.74" width="1.23" height="9.92" fill="#c8102e"/>
<rect x="320.71" y="265.74" width="1.23" height="9.92" fill="#c8102e"/>
<rect x="335.50" y="265.74" width="1.23" height="9.92" fill="#c8102e"/>
<rect x="358.93" y="265.74" width="1.23" height="9.92" fill="#c8102e"/>
<rect x="361.39" y="265.74" width="1.23" height="9.92" fill="#c8102e"/>
<rect x="368.79" y="265.74" width="1.23" height="9.92" fill="#c8102e"/>
<rect x="381.12" y="265.74" width="1.23" height="9.92" fill="#c8102e"/>
<rect x="430.44" y="265.74" width="1.23" height="9.92" fill="#c8102e"/>
<rect x="435.37" y="265.74" width="1.23" height="9.92" fill="#c8102e"/>
<rect x="61.80" y="276.26" width="1.23" height="9.92" fill="#7b3f12"/>
<rect x="74.12" y="276.26" width="1.23" height="9.92" fill="#7b3f12"/>
<rect x="101.25" y="276.26" width="1.23" height="9.92" fill="#7b3f12"/>
<rect x="106.18" y="276.26" width="1.23" height="9.92" fill="#7b3f12"/>
<rect x="109.88" y="276.26" width="1.23" height="9.92" fill="#7b3f12"/>
<rect x="114.81" y="276.26" width="2.47" height="9.92" fill="#7b3f12"/>
<rect x="118.51" y="276.26" width="1.23" height="9.92" fill="#7b3f12"/>
<rect x="130.84" y="276.26" width="1.23" height="9.92" fill="#7b3f12"/>
<rect x="137.00" y="276.26" width="1.23" height="9.92" fill="#7b3f12"/>
<rect x="154.26" y="276.26" width="1.23" height="9.92" fill="#7b3f12"/>
<rect x="160.43" y="276.26" width="2.47" height="9.92" fill="#7b3f12"/>
<rect x="165.36" y="276.26" width="1.23" height="9.92" fill="#7b3f12"/>
<rect x="185.09" y="276.26" width="1.23" height="9.92" fill="#7b3f12"/>
<rect x="190.02" y="276.26" width="1.23" height="9.92" fill="#7b3f12"/>
<rect x="194.95" y="276.26" width="1.23" height="9.92" fill="#7b3f12"/>
<rect x="197.42" y="276.26" width="1.23" height="9.92" fill="#9a8fd4"/>
<rect x="203.58" y="276.26" width="1.23" height="9.92" fill="#9a8fd4"/>
<rect x="206.05" y="276.26" width="1.23" height="9.92" fill="#7b3f12"/>
<rect x="208.51" y="276.26" width="1.23" height="9.92" fill="#7b3f12"/>
<rect x="210.98" y="276.26" width="1.23" height="9.92" fill="#7b3f12"/>
<rect x="223.31" y="276.26" width="1.23" height="9.92" fill="#7b3f12"/>
<rect x="225.77" y="276.26" width="1.23" height="9.92" fill="#7b3f12"/>
<rect x="235.64" y="276.26" width="1.23" height="9.92" fill="#9a8fd4"/>
<rect x="238.10" y="276.26" width="2.47" height="9.92" fill="#7b3f12"/>
<rect x="243.03" y="276.26" width="1.23" height="9.92" fill="#7b3f12"/>
<rect x="245.50" y="276.26" width="1.23" height="9.92" fill="#7b3f12"/>
<rect x="302.21" y="276.26" width="1.23" height="9.92" fill="#7b3f12"/>
<rect x="308.38" y="276.26" width="1.23" height="9.92" fill="#7b3f12"/>
<rect x="355.23" y="276.26" width="1.23" height="9.92" fill="#7b3f12"/>
<rect x="361.39" y="276.26" width="1.23" height="9.92" fill="#7b3f12"/>
<rect x="371.26" y="276.26" width="1.23" height="9.92" fill="#7b3f12"/>
<rect x="405.78" y="276.26" width="1.23" height="9.92" fill="#7b3f12"/>
<rect x="416.88" y="276.26" width="1.23" height="9.92" fill="#7b3f12"/>
<rect x="50.70" y="286.78" width="1.23" height="9.92" fill="#c8102e"/>
<rect x="58.10" y="286.78" width="1.23" height="9.92" fill="#c8102e"/>
<rect x="64.26" y="286.78" width="1.23" height="9.92" fill="#f6bd1b"/>
<rect x="80.29" y="286.78" width="1.23" height="9.92" fill="#c8102e"/>
<rect x="88.92" y="286.78" width="1.23" height="9.92" fill="#f6bd1b"/>
<rect x="95.08" y="286.78" width="1.23" height="9.92" fill="#c8102e"/>
<rect x="106.18" y="286.78" width="1.23" height="9.92" fill="#f6bd1b"/>
<rect x="109.88" y="286.78" width="1.23" height="9.92" fill="#c8102e"/>
<rect x="114.81" y="286.78" width="1.23" height="9.92" fill="#c8102e"/>
<rect x="125.91" y="286.78" width="1.23" height="9.92" fill="#c8102e"/>
<rect x="146.87" y="286.78" width="1.23" height="9.92" fill="#c8102e"/>
<rect x="185.09" y="286.78" width="1.23" height="9.92" fill="#c8102e"/>
<rect x="190.02" y="286.78" width="1.23" height="9.92" fill="#c8102e"/>
<rect x="196.18" y="286.78" width="2.47" height="9.92" fill="#c8102e"/>
<rect x="225.77" y="286.78" width="1.23" height="9.92" fill="#c8102e"/>
<rect x="239.34" y="286.78" width="1.23" height="9.92" fill="#c8102e"/>
<rect x="250.43" y="286.78" width="1.23" height="9.92" fill="#c8102e"/>
<rect x="277.56" y="286.78" width="1.23" height="9.92" fill="#c8102e"/>
<rect x="283.72" y="286.78" width="1.23" height="9.92" fill="#c8102e"/>
<rect x="286.19" y="286.78" width="1.23" height="9.92" fill="#c8102e"/>
<rect x="299.75" y="286.78" width="2.47" height="9.92" fill="#c8102e"/>
<rect x="304.68" y="286.78" width="1.23" height="9.92" fill="#c8102e"/>
<rect x="310.84" y="286.78" width="1.23" height="9.92" fill="#f6bd1b"/>
<rect x="325.64" y="286.78" width="2.47" height="9.92" fill="#c8102e"/>
<rect x="362.63" y="286.78" width="1.23" height="9.92" fill="#f6bd1b"/>
<rect x="370.02" y="286.78" width="1.23" height="9.92" fill="#c8102e"/>
<rect x="389.75" y="286.78" width="1.23" height="9.92" fill="#c8102e"/>
<rect x="398.38" y="286.78" width="1.23" height="9.92" fill="#c8102e"/>
<rect x="410.71" y="286.78" width="1.23" height="9.92" fill="#c8102e"/>
<rect x="429.20" y="286.78" width="3.70" height="9.92" fill="#a0102a"/>
<text transform="translate(43.30,41.56) scale(0.96,1)" class="gb" text-anchor="end">CREBBP</text>
<rect x="447" y="34.50" width="36.01" height="9.22" fill="#475170"/>
<text x="484.60" y="41.16" class="bt">190 (59%)</text>
<text transform="translate(43.30,52.08) scale(0.96,1)" class="gb" text-anchor="end">KMT2D</text>
<rect x="447" y="45.02" width="34.87" height="9.22" fill="#475170"/>
<text x="483.52" y="51.68" class="bt">184 (57%)</text>
<text transform="translate(43.30,62.60) scale(0.96,1)" class="gb" text-anchor="end">BCL2</text>
<rect x="447" y="55.54" width="24.45" height="9.22" fill="#475170"/>
<text x="473.62" y="62.20" class="bt">129 (40%)</text>
<text transform="translate(43.30,73.12) scale(0.96,1)" class="gb" text-anchor="end">TNFRSF14</text>
<rect x="447" y="66.06" width="17.43" height="9.22" fill="#475170"/>
<text x="466.96" y="72.72" class="bt">92 (28%)</text>
<text transform="translate(43.30,83.64) scale(0.96,1)" class="gn" text-anchor="end">MUC16</text>
<rect x="447" y="76.58" width="13.27" height="9.22" fill="#475170"/>
<text x="463.00" y="83.24" class="bt">70 (22%)</text>
<text transform="translate(43.30,94.16) scale(0.96,1)" class="gb" text-anchor="end">EZH2</text>
<rect x="447" y="87.10" width="11.18" height="9.22" fill="#475170"/>
<text x="461.02" y="93.76" class="bt">59 (18%)</text>
<text transform="translate(43.30,104.68) scale(0.96,1)" class="gn" text-anchor="end">DST</text>
<rect x="447" y="97.62" width="10.61" height="9.22" fill="#475170"/>
<text x="460.48" y="104.28" class="bt">56 (17%)</text>
<text transform="translate(43.30,115.20) scale(0.96,1)" class="gn" text-anchor="end">OBSCN</text>
<rect x="447" y="108.14" width="10.42" height="9.22" fill="#475170"/>
<text x="460.30" y="114.80" class="bt">55 (17%)</text>
<text transform="translate(43.30,125.72) scale(0.96,1)" class="gb" text-anchor="end">STAT6</text>
<rect x="447" y="118.66" width="9.66" height="9.22" fill="#475170"/>
<text x="459.58" y="125.32" class="bt">51 (16%)</text>
<text transform="translate(43.30,136.24) scale(0.96,1)" class="gn" text-anchor="end">SYNE1</text>
<rect x="447" y="129.18" width="8.72" height="9.22" fill="#475170"/>
<text x="458.68" y="135.84" class="bt">46 (14%)</text>
<text transform="translate(43.30,146.76) scale(0.96,1)" class="gb" text-anchor="end">EP300</text>
<rect x="447" y="139.70" width="8.15" height="9.22" fill="#475170"/>
<text x="458.14" y="146.36" class="bt">43 (13%)</text>
<text transform="translate(43.30,157.28) scale(0.96,1)" class="gn" text-anchor="end">USH2A</text>
<rect x="447" y="150.22" width="8.15" height="9.22" fill="#475170"/>
<text x="458.14" y="156.88" class="bt">43 (13%)</text>
<text transform="translate(43.30,167.80) scale(0.96,1)" class="gb" text-anchor="end">CARD11</text>
<rect x="447" y="160.74" width="7.96" height="9.22" fill="#475170"/>
<text x="457.96" y="167.40" class="bt">42 (13%)</text>
<text transform="translate(43.30,178.32) scale(0.96,1)" class="gn" text-anchor="end">DNAH5</text>
<rect x="447" y="171.26" width="7.96" height="9.22" fill="#475170"/>
<text x="457.96" y="177.92" class="bt">42 (13%)</text>
<text transform="translate(43.30,188.84) scale(0.96,1)" class="gn" text-anchor="end">LRP1B</text>
<rect x="447" y="181.78" width="7.77" height="9.22" fill="#475170"/>
<text x="457.78" y="188.44" class="bt">41 (13%)</text>
<text transform="translate(43.30,199.36) scale(0.96,1)" class="gn" text-anchor="end">NEB</text>
<rect x="447" y="192.30" width="7.77" height="9.22" fill="#475170"/>
<text x="457.78" y="198.96" class="bt">41 (13%)</text>
<text transform="translate(43.30,209.88) scale(0.96,1)" class="gn" text-anchor="end">PCLO</text>
<rect x="447" y="202.82" width="7.58" height="9.22" fill="#475170"/>
<text x="457.60" y="209.48" class="bt">40 (12%)</text>
<text transform="translate(43.30,220.40) scale(0.96,1)" class="gn" text-anchor="end">CSMD3</text>
<rect x="447" y="213.34" width="7.39" height="9.22" fill="#475170"/>
<text x="457.42" y="220.00" class="bt">39 (12%)</text>
<text transform="translate(43.30,230.92) scale(0.96,1)" class="gn" text-anchor="end">FAT4</text>
<rect x="447" y="223.86" width="7.39" height="9.22" fill="#475170"/>
<text x="457.42" y="230.52" class="bt">39 (12%)</text>
<text transform="translate(43.30,241.44) scale(0.96,1)" class="gb" text-anchor="end">IRF8</text>
<rect x="447" y="234.38" width="7.39" height="9.22" fill="#475170"/>
<text x="457.42" y="241.04" class="bt">39 (12%)</text>
<text transform="translate(43.30,251.96) scale(0.96,1)" class="gb" text-anchor="end">BCL7A</text>
<rect x="447" y="244.90" width="7.20" height="9.22" fill="#475170"/>
<text x="457.24" y="251.56" class="bt">38 (12%)</text>
<text transform="translate(43.30,262.48) scale(0.96,1)" class="gb" text-anchor="end">HIST1H1E</text>
<rect x="447" y="255.42" width="6.82" height="9.22" fill="#475170"/>
<text x="456.88" y="262.08" class="bt">36 (11%)</text>
<text transform="translate(43.30,273.00) scale(0.96,1)" class="gb" text-anchor="end">RRAGC</text>
<rect x="447" y="265.94" width="6.63" height="9.22" fill="#475170"/>
<text x="456.70" y="272.60" class="bt">35 (11%)</text>
<text transform="translate(43.30,283.52) scale(0.96,1)" class="gn" text-anchor="end">SSPO</text>
<rect x="447" y="276.46" width="6.63" height="9.22" fill="#475170"/>
<text x="456.70" y="283.12" class="bt">35 (11%)</text>
<text transform="translate(43.30,294.04) scale(0.96,1)" class="gb" text-anchor="end">MEF2B</text>
<rect x="447" y="286.98" width="6.44" height="9.22" fill="#475170"/>
<text x="456.52" y="293.64" class="bt">34 (11%)</text>
<line x1="446.3" y1="32.8" x2="446.3" y2="297.3" stroke="#111" stroke-width="0.9"/>
<line x1="446.3" y1="297" x2="508.5" y2="297" stroke="#111" stroke-width="0.9"/>
<line x1="446.50" y1="297" x2="446.50" y2="299.6" stroke="#111" stroke-width="0.8"/>
<text transform="translate(448.90,302.3) rotate(-45)" class="ax" text-anchor="end">0</text>
<line x1="456.23" y1="297" x2="456.23" y2="299.6" stroke="#111" stroke-width="0.8"/>
<text transform="translate(458.63,302.3) rotate(-45)" class="ax" text-anchor="end">50</text>
<line x1="465.96" y1="297" x2="465.96" y2="299.6" stroke="#111" stroke-width="0.8"/>
<text transform="translate(468.36,302.3) rotate(-45)" class="ax" text-anchor="end">100</text>
<line x1="475.69" y1="297" x2="475.69" y2="299.6" stroke="#111" stroke-width="0.8"/>
<text transform="translate(478.09,302.3) rotate(-45)" class="ax" text-anchor="end">150</text>
<line x1="485.42" y1="297" x2="485.42" y2="299.6" stroke="#111" stroke-width="0.8"/>
<text transform="translate(487.82,302.3) rotate(-45)" class="ax" text-anchor="end">200</text>
<line x1="495.15" y1="297" x2="495.15" y2="299.6" stroke="#111" stroke-width="0.8"/>
<text transform="translate(497.55,302.3) rotate(-45)" class="ax" text-anchor="end">250</text>
<line x1="504.88" y1="297" x2="504.88" y2="299.6" stroke="#111" stroke-width="0.8"/>
<text transform="translate(507.28,302.3) rotate(-45)" class="ax" text-anchor="end">300</text>
<text x="463.8" y="319.6" class="ax2" textLength="27.2" lengthAdjust="spacingAndGlyphs">No. of patients</text>
<text transform="translate(43.30,331.70) scale(0.93,1)" class="cl" text-anchor="end">Dx vs. Rel/Ref</text>
<rect x="47.00" y="327.90" width="23.43" height="3.8" fill="#2ea6de"/>
<rect x="70.43" y="327.90" width="1.23" height="3.8" fill="#f6bd1b"/>
<rect x="71.66" y="327.90" width="4.93" height="3.8" fill="#2ea6de"/>
<rect x="76.59" y="327.90" width="1.23" height="3.8" fill="#f6bd1b"/>
<rect x="77.82" y="327.90" width="1.23" height="3.8" fill="#2ea6de"/>
<rect x="79.06" y="327.90" width="3.70" height="3.8" fill="#f6bd1b"/>
<rect x="82.75" y="327.90" width="44.39" height="3.8" fill="#2ea6de"/>
<rect x="127.14" y="327.90" width="7.40" height="3.8" fill="#f6bd1b"/>
<rect x="135.77" y="327.90" width="3.70" height="3.8" fill="#f6bd1b"/>
<rect x="139.47" y="327.90" width="1.23" height="3.8" fill="#f7f1dc"/>
<rect x="140.70" y="327.90" width="1.23" height="3.8" fill="#f4f0e4"/>
<rect x="141.93" y="327.90" width="1.23" height="3.8" fill="#ffffff"/>
<rect x="143.17" y="327.90" width="1.23" height="3.8" fill="#ebe9ee"/>
<rect x="144.40" y="327.90" width="1.23" height="3.8" fill="#f7f1dc"/>
<rect x="145.63" y="327.90" width="1.23" height="3.8" fill="#f4f0e4"/>
<rect x="146.87" y="327.90" width="1.23" height="3.8" fill="#ffffff"/>
<rect x="148.10" y="327.90" width="1.23" height="3.8" fill="#ebe9ee"/>
<rect x="149.33" y="327.90" width="1.23" height="3.8" fill="#f7f1dc"/>
<rect x="150.57" y="327.90" width="1.23" height="3.8" fill="#f4f0e4"/>
<rect x="151.80" y="327.90" width="1.23" height="3.8" fill="#ffffff"/>
<rect x="153.03" y="327.90" width="1.23" height="3.8" fill="#ebe9ee"/>
<rect x="154.26" y="327.90" width="1.23" height="3.8" fill="#f7f1dc"/>
<rect x="155.50" y="327.90" width="1.23" height="3.8" fill="#f4f0e4"/>
<rect x="156.73" y="327.90" width="1.23" height="3.8" fill="#ffffff"/>
<rect x="157.96" y="327.90" width="9.86" height="3.8" fill="#2ea6de"/>
<rect x="169.06" y="327.90" width="6.16" height="3.8" fill="#2ea6de"/>
<rect x="176.46" y="327.90" width="12.33" height="3.8" fill="#2ea6de"/>
<rect x="188.79" y="327.90" width="1.23" height="3.8" fill="#f6bd1b"/>
<rect x="190.02" y="327.90" width="1.23" height="3.8" fill="#2ea6de"/>
<rect x="191.25" y="327.90" width="1.23" height="3.8" fill="#f6bd1b"/>
<rect x="193.72" y="327.90" width="1.23" height="3.8" fill="#f6bd1b"/>
<rect x="197.42" y="327.90" width="1.23" height="3.8" fill="#2ea6de"/>
<rect x="198.65" y="327.90" width="1.23" height="3.8" fill="#f6bd1b"/>
<rect x="204.81" y="327.90" width="4.93" height="3.8" fill="#2ea6de"/>
<rect x="209.75" y="327.90" width="1.23" height="3.8" fill="#f6bd1b"/>
<rect x="210.98" y="327.90" width="2.47" height="3.8" fill="#2ea6de"/>
<rect x="215.91" y="327.90" width="1.23" height="3.8" fill="#f6bd1b"/>
<rect x="217.14" y="327.90" width="3.70" height="3.8" fill="#2ea6de"/>
<rect x="220.84" y="327.90" width="1.23" height="3.8" fill="#f6bd1b"/>
<rect x="222.07" y="327.90" width="8.63" height="3.8" fill="#2ea6de"/>
<rect x="230.70" y="327.90" width="1.23" height="3.8" fill="#f6bd1b"/>
<rect x="233.17" y="327.90" width="4.93" height="3.8" fill="#2ea6de"/>
<rect x="239.34" y="327.90" width="6.16" height="3.8" fill="#2ea6de"/>
<rect x="245.50" y="327.90" width="1.23" height="3.8" fill="#f6bd1b"/>
<rect x="246.73" y="327.90" width="7.40" height="3.8" fill="#2ea6de"/>
<rect x="257.83" y="327.90" width="1.23" height="3.8" fill="#f6bd1b"/>
<rect x="260.30" y="327.90" width="7.40" height="3.8" fill="#2ea6de"/>
<rect x="267.69" y="327.90" width="1.23" height="3.8" fill="#f6bd1b"/>
<rect x="268.93" y="327.90" width="6.16" height="3.8" fill="#2ea6de"/>
<rect x="275.09" y="327.90" width="1.23" height="3.8" fill="#f6bd1b"/>
<rect x="276.32" y="327.90" width="8.63" height="3.8" fill="#2ea6de"/>
<rect x="284.95" y="327.90" width="1.23" height="3.8" fill="#f6bd1b"/>
<rect x="286.19" y="327.90" width="6.16" height="3.8" fill="#2ea6de"/>
<rect x="292.35" y="327.90" width="1.23" height="3.8" fill="#f6bd1b"/>
<rect x="293.58" y="327.90" width="1.23" height="3.8" fill="#2ea6de"/>
<rect x="294.82" y="327.90" width="1.23" height="3.8" fill="#f6bd1b"/>
<rect x="296.05" y="327.90" width="13.56" height="3.8" fill="#2ea6de"/>
<rect x="309.61" y="327.90" width="1.23" height="3.8" fill="#f6bd1b"/>
<rect x="310.84" y="327.90" width="1.23" height="3.8" fill="#2ea6de"/>
<rect x="313.31" y="327.90" width="3.70" height="3.8" fill="#2ea6de"/>
<rect x="318.24" y="327.90" width="38.22" height="3.8" fill="#2ea6de"/>
<rect x="356.46" y="327.90" width="1.23" height="3.8" fill="#f6bd1b"/>
<rect x="357.70" y="327.90" width="1.23" height="3.8" fill="#2ea6de"/>
<rect x="358.93" y="327.90" width="1.23" height="3.8" fill="#f6bd1b"/>
<rect x="360.16" y="327.90" width="35.75" height="3.8" fill="#2ea6de"/>
<rect x="395.92" y="327.90" width="1.23" height="3.8" fill="#f6bd1b"/>
<rect x="397.15" y="327.90" width="1.23" height="3.8" fill="#2ea6de"/>
<rect x="398.38" y="327.90" width="1.23" height="3.8" fill="#f6bd1b"/>
<rect x="399.61" y="327.90" width="1.23" height="3.8" fill="#2ea6de"/>
<rect x="400.85" y="327.90" width="1.23" height="3.8" fill="#f6bd1b"/>
<rect x="402.08" y="327.90" width="1.23" height="3.8" fill="#2ea6de"/>
<rect x="403.31" y="327.90" width="1.23" height="3.8" fill="#f6bd1b"/>
<rect x="405.78" y="327.90" width="3.70" height="3.8" fill="#2ea6de"/>
<rect x="409.48" y="327.90" width="4.93" height="3.8" fill="#f6bd1b"/>
<rect x="414.41" y="327.90" width="18.49" height="3.8" fill="#2ea6de"/>
<rect x="432.90" y="327.90" width="1.23" height="3.8" fill="#f6bd1b"/>
<rect x="434.14" y="327.90" width="1.23" height="3.8" fill="#2ea6de"/>
<rect x="435.37" y="327.90" width="1.23" height="3.8" fill="#f6bd1b"/>
<rect x="436.60" y="327.90" width="7.40" height="3.8" fill="#2ea6de"/>
<text transform="translate(43.30,339.10) scale(0.93,1)" class="cl" text-anchor="end">FLIPI</text>
<rect x="47.00" y="335.30" width="1.23" height="3.8" fill="#f6bd1b"/>
<rect x="48.23" y="335.30" width="1.23" height="3.8" fill="#cfcfd4"/>
<rect x="49.47" y="335.30" width="1.23" height="3.8" fill="#2ea6de"/>
<rect x="50.70" y="335.30" width="1.23" height="3.8" fill="#f6bd1b"/>
<rect x="51.93" y="335.30" width="4.93" height="3.8" fill="#2ea6de"/>
<rect x="56.86" y="335.30" width="9.86" height="3.8" fill="#cfcfd4"/>
<rect x="66.73" y="335.30" width="1.23" height="3.8" fill="#2ea6de"/>
<rect x="67.96" y="335.30" width="4.93" height="3.8" fill="#f6bd1b"/>
<rect x="72.89" y="335.30" width="2.47" height="3.8" fill="#cfcfd4"/>
<rect x="75.36" y="335.30" width="2.47" height="3.8" fill="#2ea6de"/>
<rect x="77.82" y="335.30" width="1.23" height="3.8" fill="#cfcfd4"/>
<rect x="79.06" y="335.30" width="1.23" height="3.8" fill="#f6bd1b"/>
<rect x="80.29" y="335.30" width="3.70" height="3.8" fill="#cfcfd4"/>
<rect x="83.99" y="335.30" width="1.23" height="3.8" fill="#2ea6de"/>
<rect x="85.22" y="335.30" width="1.23" height="3.8" fill="#f6bd1b"/>
<rect x="86.45" y="335.30" width="1.23" height="3.8" fill="#2ea6de"/>
<rect x="87.69" y="335.30" width="1.23" height="3.8" fill="#f6bd1b"/>
<rect x="88.92" y="335.30" width="1.23" height="3.8" fill="#2ea6de"/>
<rect x="90.15" y="335.30" width="4.93" height="3.8" fill="#cfcfd4"/>
<rect x="95.08" y="335.30" width="4.93" height="3.8" fill="#2ea6de"/>
<rect x="100.02" y="335.30" width="3.70" height="3.8" fill="#cfcfd4"/>
<rect x="103.71" y="335.30" width="1.23" height="3.8" fill="#2ea6de"/>
<rect x="104.95" y="335.30" width="1.23" height="3.8" fill="#f6bd1b"/>
<rect x="106.18" y="335.30" width="1.23" height="3.8" fill="#2ea6de"/>
<rect x="107.41" y="335.30" width="6.16" height="3.8" fill="#f6bd1b"/>
<rect x="113.58" y="335.30" width="1.23" height="3.8" fill="#2ea6de"/>
<rect x="114.81" y="335.30" width="4.93" height="3.8" fill="#cfcfd4"/>
<rect x="119.74" y="335.30" width="7.40" height="3.8" fill="#f6bd1b"/>
<rect x="127.14" y="335.30" width="7.40" height="3.8" fill="#2ea6de"/>
<rect x="134.54" y="335.30" width="1.23" height="3.8" fill="#cfcfd4"/>
<rect x="135.77" y="335.30" width="1.23" height="3.8" fill="#2ea6de"/>
<rect x="137.00" y="335.30" width="1.23" height="3.8" fill="#f6bd1b"/>
<rect x="138.24" y="335.30" width="1.23" height="3.8" fill="#2ea6de"/>
<rect x="139.47" y="335.30" width="1.23" height="3.8" fill="#f7f1dc"/>
<rect x="140.70" y="335.30" width="1.23" height="3.8" fill="#f4f0e4"/>
<rect x="141.93" y="335.30" width="1.23" height="3.8" fill="#ffffff"/>
<rect x="143.17" y="335.30" width="1.23" height="3.8" fill="#ebe9ee"/>
<rect x="144.40" y="335.30" width="1.23" height="3.8" fill="#f7f1dc"/>
<rect x="145.63" y="335.30" width="1.23" height="3.8" fill="#f4f0e4"/>
<rect x="146.87" y="335.30" width="1.23" height="3.8" fill="#ffffff"/>
<rect x="148.10" y="335.30" width="1.23" height="3.8" fill="#ebe9ee"/>
<rect x="149.33" y="335.30" width="1.23" height="3.8" fill="#f7f1dc"/>
<rect x="150.57" y="335.30" width="1.23" height="3.8" fill="#f4f0e4"/>
<rect x="151.80" y="335.30" width="1.23" height="3.8" fill="#ffffff"/>
<rect x="153.03" y="335.30" width="1.23" height="3.8" fill="#ebe9ee"/>
<rect x="154.26" y="335.30" width="1.23" height="3.8" fill="#f7f1dc"/>
<rect x="155.50" y="335.30" width="1.23" height="3.8" fill="#f4f0e4"/>
<rect x="156.73" y="335.30" width="1.23" height="3.8" fill="#ffffff"/>
<rect x="157.96" y="335.30" width="1.23" height="3.8" fill="#ebe9ee"/>
<rect x="159.20" y="335.30" width="1.23" height="3.8" fill="#f6bd1b"/>
<rect x="160.43" y="335.30" width="1.23" height="3.8" fill="#2ea6de"/>
<rect x="161.66" y="335.30" width="4.93" height="3.8" fill="#f6bd1b"/>
<rect x="166.59" y="335.30" width="2.47" height="3.8" fill="#2ea6de"/>
<rect x="169.06" y="335.30" width="1.23" height="3.8" fill="#cfcfd4"/>
<rect x="170.29" y="335.30" width="1.23" height="3.8" fill="#2ea6de"/>
<rect x="171.52" y="335.30" width="1.23" height="3.8" fill="#f6bd1b"/>
<rect x="172.76" y="335.30" width="1.23" height="3.8" fill="#2ea6de"/>
<rect x="173.99" y="335.30" width="2.47" height="3.8" fill="#cfcfd4"/>
<rect x="176.46" y="335.30" width="4.93" height="3.8" fill="#2ea6de"/>
<rect x="181.39" y="335.30" width="6.16" height="3.8" fill="#f6bd1b"/>
<rect x="187.55" y="335.30" width="1.23" height="3.8" fill="#2ea6de"/>
<rect x="188.79" y="335.30" width="6.16" height="3.8" fill="#f6bd1b"/>
<rect x="194.95" y="335.30" width="1.23" height="3.8" fill="#2ea6de"/>
<rect x="196.18" y="335.30" width="1.23" height="3.8" fill="#ffffff"/>
<rect x="197.42" y="335.30" width="1.23" height="3.8" fill="#ebe9ee"/>
<rect x="198.65" y="335.30" width="1.23" height="3.8" fill="#f7f1dc"/>
<rect x="199.88" y="335.30" width="2.47" height="3.8" fill="#2ea6de"/>
<rect x="202.35" y="335.30" width="1.23" height="3.8" fill="#cfcfd4"/>
<rect x="203.58" y="335.30" width="2.47" height="3.8" fill="#2ea6de"/>
<rect x="206.05" y="335.30" width="1.23" height="3.8" fill="#f6bd1b"/>
<rect x="207.28" y="335.30" width="2.47" height="3.8" fill="#2ea6de"/>
<rect x="209.75" y="335.30" width="1.23" height="3.8" fill="#f4f0e4"/>
<rect x="210.98" y="335.30" width="1.23" height="3.8" fill="#f6bd1b"/>
<rect x="212.21" y="335.30" width="1.23" height="3.8" fill="#2ea6de"/>
<rect x="213.44" y="335.30" width="1.23" height="3.8" fill="#f6bd1b"/>
<rect x="214.68" y="335.30" width="1.23" height="3.8" fill="#2ea6de"/>
<rect x="215.91" y="335.30" width="3.70" height="3.8" fill="#f6bd1b"/>
<rect x="219.61" y="335.30" width="3.70" height="3.8" fill="#2ea6de"/>
<rect x="223.31" y="335.30" width="4.93" height="3.8" fill="#f6bd1b"/>
<rect x="228.24" y="335.30" width="2.47" height="3.8" fill="#2ea6de"/>
<rect x="230.70" y="335.30" width="3.70" height="3.8" fill="#f6bd1b"/>
<rect x="234.40" y="335.30" width="3.70" height="3.8" fill="#cfcfd4"/>
<rect x="238.10" y="335.30" width="1.23" height="3.8" fill="#f6bd1b"/>
<rect x="239.34" y="335.30" width="1.23" height="3.8" fill="#2ea6de"/>
<rect x="240.57" y="335.30" width="3.70" height="3.8" fill="#f6bd1b"/>
<rect x="244.27" y="335.30" width="1.23" height="3.8" fill="#2ea6de"/>
<rect x="245.50" y="335.30" width="1.23" height="3.8" fill="#f6bd1b"/>
<rect x="246.73" y="335.30" width="1.23" height="3.8" fill="#2ea6de"/>
<rect x="247.97" y="335.30" width="1.23" height="3.8" fill="#f6bd1b"/>
<rect x="249.20" y="335.30" width="4.93" height="3.8" fill="#2ea6de"/>
<rect x="254.13" y="335.30" width="3.70" height="3.8" fill="#cfcfd4"/>
<rect x="257.83" y="335.30" width="1.23" height="3.8" fill="#f6bd1b"/>
<rect x="259.06" y="335.30" width="2.47" height="3.8" fill="#cfcfd4"/>
<rect x="261.53" y="335.30" width="4.93" height="3.8" fill="#f6bd1b"/>
<rect x="266.46" y="335.30" width="1.23" height="3.8" fill="#2ea6de"/>
<rect x="267.69" y="335.30" width="6.16" height="3.8" fill="#f6bd1b"/>
<rect x="273.86" y="335.30" width="2.47" height="3.8" fill="#cfcfd4"/>
<rect x="276.32" y="335.30" width="3.70" height="3.8" fill="#2ea6de"/>
<rect x="280.02" y="335.30" width="1.23" height="3.8" fill="#f6bd1b"/>
<rect x="281.25" y="335.30" width="1.23" height="3.8" fill="#2ea6de"/>
<rect x="282.49" y="335.30" width="1.23" height="3.8" fill="#f6bd1b"/>
<rect x="283.72" y="335.30" width="3.70" height="3.8" fill="#2ea6de"/>
<rect x="287.42" y="335.30" width="3.70" height="3.8" fill="#f6bd1b"/>
<rect x="291.12" y="335.30" width="1.23" height="3.8" fill="#2ea6de"/>
<rect x="292.35" y="335.30" width="1.23" height="3.8" fill="#f6bd1b"/>
<rect x="293.58" y="335.30" width="1.23" height="3.8" fill="#2ea6de"/>
<rect x="294.82" y="335.30" width="1.23" height="3.8" fill="#cfcfd4"/>
<rect x="296.05" y="335.30" width="4.93" height="3.8" fill="#2ea6de"/>
<rect x="300.98" y="335.30" width="1.23" height="3.8" fill="#f6bd1b"/>
<rect x="302.21" y="335.30" width="6.16" height="3.8" fill="#cfcfd4"/>
<rect x="308.38" y="335.30" width="2.47" height="3.8" fill="#f6bd1b"/>
<rect x="310.84" y="335.30" width="2.47" height="3.8" fill="#cfcfd4"/>
<rect x="313.31" y="335.30" width="1.23" height="3.8" fill="#2ea6de"/>
<rect x="314.54" y="335.30" width="1.23" height="3.8" fill="#f6bd1b"/>
<rect x="315.78" y="335.30" width="1.23" height="3.8" fill="#2ea6de"/>
<rect x="317.01" y="335.30" width="1.23" height="3.8" fill="#f6bd1b"/>
<rect x="318.24" y="335.30" width="1.23" height="3.8" fill="#2ea6de"/>
<rect x="319.48" y="335.30" width="1.23" height="3.8" fill="#f6bd1b"/>
<rect x="320.71" y="335.30" width="1.23" height="3.8" fill="#cfcfd4"/>
<rect x="321.94" y="335.30" width="1.23" height="3.8" fill="#f6bd1b"/>
<rect x="323.17" y="335.30" width="1.23" height="3.8" fill="#2ea6de"/>
<rect x="324.41" y="335.30" width="1.23" height="3.8" fill="#f6bd1b"/>
<rect x="325.64" y="335.30" width="1.23" height="3.8" fill="#2ea6de"/>
<rect x="326.87" y="335.30" width="3.70" height="3.8" fill="#f6bd1b"/>
<rect x="330.57" y="335.30" width="2.47" height="3.8" fill="#2ea6de"/>
<rect x="333.04" y="335.30" width="6.16" height="3.8" fill="#f6bd1b"/>
<rect x="339.20" y="335.30" width="1.23" height="3.8" fill="#cfcfd4"/>
<rect x="340.43" y="335.30" width="1.23" height="3.8" fill="#2ea6de"/>
<rect x="341.67" y="335.30" width="4.93" height="3.8" fill="#f6bd1b"/>
<rect x="346.60" y="335.30" width="4.93" height="3.8" fill="#cfcfd4"/>
<rect x="351.53" y="335.30" width="2.47" height="3.8" fill="#2ea6de"/>
<rect x="354.00" y="335.30" width="1.23" height="3.8" fill="#f6bd1b"/>
<rect x="355.23" y="335.30" width="1.23" height="3.8" fill="#2ea6de"/>
<rect x="356.46" y="335.30" width="4.93" height="3.8" fill="#cfcfd4"/>
<rect x="361.39" y="335.30" width="6.16" height="3.8" fill="#f6bd1b"/>
<rect x="367.56" y="335.30" width="3.70" height="3.8" fill="#cfcfd4"/>
<rect x="371.26" y="335.30" width="1.23" height="3.8" fill="#f6bd1b"/>
<rect x="372.49" y="335.30" width="1.23" height="3.8" fill="#2ea6de"/>
<rect x="373.72" y="335.30" width="1.23" height="3.8" fill="#f6bd1b"/>
<rect x="374.96" y="335.30" width="1.23" height="3.8" fill="#2ea6de"/>
<rect x="376.19" y="335.30" width="1.23" height="3.8" fill="#f6bd1b"/>
<rect x="377.42" y="335.30" width="1.23" height="3.8" fill="#2ea6de"/>
<rect x="378.66" y="335.30" width="4.93" height="3.8" fill="#f6bd1b"/>
<rect x="383.59" y="335.30" width="7.40" height="3.8" fill="#cfcfd4"/>
<rect x="390.98" y="335.30" width="1.23" height="3.8" fill="#f6bd1b"/>
<rect x="392.22" y="335.30" width="1.23" height="3.8" fill="#2ea6de"/>
<rect x="393.45" y="335.30" width="1.23" height="3.8" fill="#cfcfd4"/>
<rect x="394.68" y="335.30" width="4.93" height="3.8" fill="#f6bd1b"/>
<rect x="399.61" y="335.30" width="1.23" height="3.8" fill="#cfcfd4"/>
<rect x="400.85" y="335.30" width="3.70" height="3.8" fill="#2ea6de"/>
<rect x="404.55" y="335.30" width="1.23" height="3.8" fill="#cfcfd4"/>
<rect x="405.78" y="335.30" width="1.23" height="3.8" fill="#f6bd1b"/>
<rect x="407.01" y="335.30" width="2.47" height="3.8" fill="#2ea6de"/>
<rect x="409.48" y="335.30" width="1.23" height="3.8" fill="#cfcfd4"/>
<rect x="410.71" y="335.30" width="6.16" height="3.8" fill="#f6bd1b"/>
<rect x="416.88" y="335.30" width="1.23" height="3.8" fill="#2ea6de"/>
<rect x="418.11" y="335.30" width="3.70" height="3.8" fill="#f6bd1b"/>
<rect x="421.81" y="335.30" width="1.23" height="3.8" fill="#cfcfd4"/>
<rect x="423.04" y="335.30" width="3.70" height="3.8" fill="#f6bd1b"/>
<rect x="426.74" y="335.30" width="1.23" height="3.8" fill="#2ea6de"/>
<rect x="427.97" y="335.30" width="1.23" height="3.8" fill="#f6bd1b"/>
<rect x="429.20" y="335.30" width="7.40" height="3.8" fill="#2ea6de"/>
<rect x="436.60" y="335.30" width="4.93" height="3.8" fill="#f6bd1b"/>
<rect x="441.53" y="335.30" width="2.47" height="3.8" fill="#2ea6de"/>
<text transform="translate(43.30,347.20) scale(0.93,1)" class="cl" text-anchor="end">m7-FLIPI</text>
<rect x="47.00" y="343.40" width="2.47" height="3.8" fill="#f6bd1b"/>
<rect x="49.47" y="343.40" width="1.23" height="3.8" fill="#2ea6de"/>
<rect x="50.70" y="343.40" width="3.70" height="3.8" fill="#f6bd1b"/>
<rect x="54.40" y="343.40" width="1.23" height="3.8" fill="#2ea6de"/>
<rect x="55.63" y="343.40" width="11.10" height="3.8" fill="#f6bd1b"/>
<rect x="66.73" y="343.40" width="1.23" height="3.8" fill="#2ea6de"/>
<rect x="67.96" y="343.40" width="7.40" height="3.8" fill="#f6bd1b"/>
<rect x="75.36" y="343.40" width="1.23" height="3.8" fill="#2ea6de"/>
<rect x="76.59" y="343.40" width="7.40" height="3.8" fill="#f6bd1b"/>
<rect x="83.99" y="343.40" width="1.23" height="3.8" fill="#2ea6de"/>
<rect x="85.22" y="343.40" width="3.70" height="3.8" fill="#f6bd1b"/>
<rect x="88.92" y="343.40" width="2.47" height="3.8" fill="#2ea6de"/>
<rect x="91.39" y="343.40" width="14.80" height="3.8" fill="#f6bd1b"/>
<rect x="106.18" y="343.40" width="1.23" height="3.8" fill="#2ea6de"/>
<rect x="107.41" y="343.40" width="16.03" height="3.8" fill="#f6bd1b"/>
<rect x="123.44" y="343.40" width="1.23" height="3.8" fill="#2ea6de"/>
<rect x="124.67" y="343.40" width="3.70" height="3.8" fill="#f6bd1b"/>
<rect x="128.37" y="343.40" width="4.93" height="3.8" fill="#2ea6de"/>
<rect x="133.30" y="343.40" width="27.12" height="3.8" fill="#f6bd1b"/>
<rect x="160.43" y="343.40" width="1.23" height="3.8" fill="#2ea6de"/>
<rect x="161.66" y="343.40" width="8.63" height="3.8" fill="#f6bd1b"/>
<rect x="170.29" y="343.40" width="1.23" height="3.8" fill="#2ea6de"/>
<rect x="171.52" y="343.40" width="1.23" height="3.8" fill="#f6bd1b"/>
<rect x="172.76" y="343.40" width="1.23" height="3.8" fill="#2ea6de"/>
<rect x="173.99" y="343.40" width="19.73" height="3.8" fill="#f6bd1b"/>
<rect x="193.72" y="343.40" width="2.47" height="3.8" fill="#2ea6de"/>
<rect x="196.18" y="343.40" width="3.70" height="3.8" fill="#f6bd1b"/>
<rect x="199.88" y="343.40" width="1.23" height="3.8" fill="#2ea6de"/>
<rect x="201.11" y="343.40" width="3.70" height="3.8" fill="#f6bd1b"/>
<rect x="204.81" y="343.40" width="1.23" height="3.8" fill="#2ea6de"/>
<rect x="206.05" y="343.40" width="6.16" height="3.8" fill="#f6bd1b"/>
<rect x="212.21" y="343.40" width="1.23" height="3.8" fill="#2ea6de"/>
<rect x="213.44" y="343.40" width="6.16" height="3.8" fill="#f6bd1b"/>
<rect x="219.61" y="343.40" width="1.23" height="3.8" fill="#2ea6de"/>
<rect x="220.84" y="343.40" width="18.49" height="3.8" fill="#f6bd1b"/>
<rect x="239.34" y="343.40" width="1.23" height="3.8" fill="#2ea6de"/>
<rect x="240.57" y="343.40" width="35.75" height="3.8" fill="#f6bd1b"/>
<rect x="276.32" y="343.40" width="1.23" height="3.8" fill="#2ea6de"/>
<rect x="277.56" y="343.40" width="1.23" height="3.8" fill="#f6bd1b"/>
<rect x="278.79" y="343.40" width="1.23" height="3.8" fill="#2ea6de"/>
<rect x="280.02" y="343.40" width="6.16" height="3.8" fill="#f6bd1b"/>
<rect x="286.19" y="343.40" width="1.23" height="3.8" fill="#2ea6de"/>
<rect x="287.42" y="343.40" width="3.70" height="3.8" fill="#f6bd1b"/>
<rect x="291.12" y="343.40" width="1.23" height="3.8" fill="#2ea6de"/>
<rect x="292.35" y="343.40" width="6.16" height="3.8" fill="#f6bd1b"/>
<rect x="298.52" y="343.40" width="1.23" height="3.8" fill="#2ea6de"/>
<rect x="299.75" y="343.40" width="3.70" height="3.8" fill="#f6bd1b"/>
<rect x="303.45" y="343.40" width="1.23" height="3.8" fill="#2ea6de"/>
<rect x="304.68" y="343.40" width="8.63" height="3.8" fill="#f6bd1b"/>
<rect x="313.31" y="343.40" width="2.47" height="3.8" fill="#2ea6de"/>
<rect x="315.78" y="343.40" width="7.40" height="3.8" fill="#f6bd1b"/>
<rect x="323.17" y="343.40" width="1.23" height="3.8" fill="#2ea6de"/>
<rect x="324.41" y="343.40" width="30.82" height="3.8" fill="#f6bd1b"/>
<rect x="355.23" y="343.40" width="1.23" height="3.8" fill="#2ea6de"/>
<rect x="356.46" y="343.40" width="20.96" height="3.8" fill="#f6bd1b"/>
<rect x="377.42" y="343.40" width="1.23" height="3.8" fill="#2ea6de"/>
<rect x="378.66" y="343.40" width="11.10" height="3.8" fill="#f6bd1b"/>
<rect x="389.75" y="343.40" width="1.23" height="3.8" fill="#2ea6de"/>
<rect x="390.98" y="343.40" width="12.33" height="3.8" fill="#f6bd1b"/>
<rect x="403.31" y="343.40" width="1.23" height="3.8" fill="#2ea6de"/>
<rect x="405.78" y="343.40" width="3.70" height="3.8" fill="#f6bd1b"/>
<rect x="409.48" y="343.40" width="1.23" height="3.8" fill="#2ea6de"/>
<rect x="410.71" y="343.40" width="6.16" height="3.8" fill="#f6bd1b"/>
<rect x="416.88" y="343.40" width="1.23" height="3.8" fill="#2ea6de"/>
<rect x="418.11" y="343.40" width="16.03" height="3.8" fill="#f6bd1b"/>
<rect x="434.14" y="343.40" width="1.23" height="3.8" fill="#2ea6de"/>
<rect x="435.37" y="343.40" width="8.63" height="3.8" fill="#f6bd1b"/>
<text transform="translate(43.30,354.70) scale(0.93,1)" class="cl" text-anchor="end">Initial W&amp;W</text>
<rect x="47.00" y="350.90" width="3.70" height="3.8" fill="#2ea6de"/>
<rect x="50.70" y="350.90" width="1.23" height="3.8" fill="#f6bd1b"/>
<rect x="54.40" y="350.90" width="6.16" height="3.8" fill="#2ea6de"/>
<rect x="60.56" y="350.90" width="2.47" height="3.8" fill="#f6bd1b"/>
<rect x="63.03" y="350.90" width="8.63" height="3.8" fill="#2ea6de"/>
<rect x="71.66" y="350.90" width="1.23" height="3.8" fill="#f6bd1b"/>
<rect x="72.89" y="350.90" width="9.86" height="3.8" fill="#2ea6de"/>
<rect x="82.75" y="350.90" width="1.23" height="3.8" fill="#f6bd1b"/>
<rect x="83.99" y="350.90" width="43.15" height="3.8" fill="#2ea6de"/>
<rect x="129.61" y="350.90" width="1.23" height="3.8" fill="#2ea6de"/>
<rect x="130.84" y="350.90" width="1.23" height="3.8" fill="#f4f0e4"/>
<rect x="132.07" y="350.90" width="1.23" height="3.8" fill="#ffffff"/>
<rect x="133.30" y="350.90" width="1.23" height="3.8" fill="#ebe9ee"/>
<rect x="134.54" y="350.90" width="1.23" height="3.8" fill="#f7f1dc"/>
<rect x="135.77" y="350.90" width="1.23" height="3.8" fill="#f4f0e4"/>
<rect x="137.00" y="350.90" width="1.23" height="3.8" fill="#ffffff"/>
<rect x="138.24" y="350.90" width="1.23" height="3.8" fill="#2ea6de"/>
<rect x="139.47" y="350.90" width="1.23" height="3.8" fill="#f7f1dc"/>
<rect x="140.70" y="350.90" width="1.23" height="3.8" fill="#f4f0e4"/>
<rect x="141.93" y="350.90" width="1.23" height="3.8" fill="#ffffff"/>
<rect x="143.17" y="350.90" width="1.23" height="3.8" fill="#ebe9ee"/>
<rect x="144.40" y="350.90" width="1.23" height="3.8" fill="#f7f1dc"/>
<rect x="145.63" y="350.90" width="1.23" height="3.8" fill="#f4f0e4"/>
<rect x="146.87" y="350.90" width="2.47" height="3.8" fill="#2ea6de"/>
<rect x="149.33" y="350.90" width="1.23" height="3.8" fill="#f7f1dc"/>
<rect x="150.57" y="350.90" width="1.23" height="3.8" fill="#f4f0e4"/>
<rect x="151.80" y="350.90" width="1.23" height="3.8" fill="#ffffff"/>
<rect x="153.03" y="350.90" width="1.23" height="3.8" fill="#ebe9ee"/>
<rect x="154.26" y="350.90" width="1.23" height="3.8" fill="#f7f1dc"/>
<rect x="155.50" y="350.90" width="1.23" height="3.8" fill="#f4f0e4"/>
<rect x="156.73" y="350.90" width="1.23" height="3.8" fill="#ffffff"/>
<rect x="157.96" y="350.90" width="8.63" height="3.8" fill="#2ea6de"/>
<rect x="169.06" y="350.90" width="6.16" height="3.8" fill="#2ea6de"/>
<rect x="176.46" y="350.90" width="13.56" height="3.8" fill="#2ea6de"/>
<rect x="192.48" y="350.90" width="4.93" height="3.8" fill="#2ea6de"/>
<rect x="198.65" y="350.90" width="1.23" height="3.8" fill="#2ea6de"/>
<rect x="202.35" y="350.90" width="6.16" height="3.8" fill="#2ea6de"/>
<rect x="208.51" y="350.90" width="2.47" height="3.8" fill="#f6bd1b"/>
<rect x="210.98" y="350.90" width="1.23" height="3.8" fill="#2ea6de"/>
<rect x="213.44" y="350.90" width="4.93" height="3.8" fill="#2ea6de"/>
<rect x="222.07" y="350.90" width="7.40" height="3.8" fill="#2ea6de"/>
<rect x="230.70" y="350.90" width="14.80" height="3.8" fill="#2ea6de"/>
<rect x="245.50" y="350.90" width="1.23" height="3.8" fill="#f6bd1b"/>
<rect x="247.97" y="350.90" width="4.93" height="3.8" fill="#2ea6de"/>
<rect x="252.90" y="350.90" width="1.23" height="3.8" fill="#f7f1dc"/>
<rect x="254.13" y="350.90" width="1.23" height="3.8" fill="#f4f0e4"/>
<rect x="255.36" y="350.90" width="1.23" height="3.8" fill="#ffffff"/>
<rect x="256.60" y="350.90" width="1.23" height="3.8" fill="#ebe9ee"/>
<rect x="257.83" y="350.90" width="1.23" height="3.8" fill="#f7f1dc"/>
<rect x="259.06" y="350.90" width="1.23" height="3.8" fill="#f4f0e4"/>
<rect x="260.30" y="350.90" width="1.23" height="3.8" fill="#ffffff"/>
<rect x="261.53" y="350.90" width="1.23" height="3.8" fill="#2ea6de"/>
<rect x="262.76" y="350.90" width="1.23" height="3.8" fill="#f6bd1b"/>
<rect x="263.99" y="350.90" width="1.23" height="3.8" fill="#f4f0e4"/>
<rect x="265.23" y="350.90" width="1.23" height="3.8" fill="#ffffff"/>
<rect x="266.46" y="350.90" width="1.23" height="3.8" fill="#ebe9ee"/>
<rect x="267.69" y="350.90" width="1.23" height="3.8" fill="#f7f1dc"/>
<rect x="268.93" y="350.90" width="4.93" height="3.8" fill="#2ea6de"/>
<rect x="273.86" y="350.90" width="1.23" height="3.8" fill="#f4f0e4"/>
<rect x="275.09" y="350.90" width="1.23" height="3.8" fill="#ffffff"/>
<rect x="276.32" y="350.90" width="1.23" height="3.8" fill="#ebe9ee"/>
<rect x="277.56" y="350.90" width="1.23" height="3.8" fill="#f7f1dc"/>
<rect x="278.79" y="350.90" width="1.23" height="3.8" fill="#2ea6de"/>
<rect x="280.02" y="350.90" width="1.23" height="3.8" fill="#f6bd1b"/>
<rect x="281.25" y="350.90" width="1.23" height="3.8" fill="#2ea6de"/>
<rect x="282.49" y="350.90" width="1.23" height="3.8" fill="#f6bd1b"/>
<rect x="283.72" y="350.90" width="3.70" height="3.8" fill="#2ea6de"/>
<rect x="288.65" y="350.90" width="1.23" height="3.8" fill="#f6bd1b"/>
<rect x="289.89" y="350.90" width="1.23" height="3.8" fill="#ffffff"/>
<rect x="291.12" y="350.90" width="1.23" height="3.8" fill="#ebe9ee"/>
<rect x="292.35" y="350.90" width="1.23" height="3.8" fill="#f7f1dc"/>
<rect x="293.58" y="350.90" width="1.23" height="3.8" fill="#f4f0e4"/>
<rect x="294.82" y="350.90" width="1.23" height="3.8" fill="#ffffff"/>
<rect x="296.05" y="350.90" width="3.70" height="3.8" fill="#2ea6de"/>
<rect x="302.21" y="350.90" width="1.23" height="3.8" fill="#f6bd1b"/>
<rect x="303.45" y="350.90" width="1.23" height="3.8" fill="#2ea6de"/>
<rect x="307.15" y="350.90" width="3.70" height="3.8" fill="#f6bd1b"/>
<rect x="312.08" y="350.90" width="3.70" height="3.8" fill="#2ea6de"/>
<rect x="318.24" y="350.90" width="11.10" height="3.8" fill="#2ea6de"/>
<rect x="329.34" y="350.90" width="1.23" height="3.8" fill="#f6bd1b"/>
<rect x="330.57" y="350.90" width="9.86" height="3.8" fill="#2ea6de"/>
<rect x="340.43" y="350.90" width="2.47" height="3.8" fill="#f6bd1b"/>
<rect x="342.90" y="350.90" width="6.16" height="3.8" fill="#2ea6de"/>
<rect x="349.07" y="350.90" width="1.23" height="3.8" fill="#f6bd1b"/>
<rect x="350.30" y="350.90" width="6.16" height="3.8" fill="#2ea6de"/>
<rect x="356.46" y="350.90" width="1.23" height="3.8" fill="#f6bd1b"/>
<rect x="357.70" y="350.90" width="3.70" height="3.8" fill="#2ea6de"/>
<rect x="361.39" y="350.90" width="1.23" height="3.8" fill="#f6bd1b"/>
<rect x="362.63" y="350.90" width="1.23" height="3.8" fill="#2ea6de"/>
<rect x="363.86" y="350.90" width="1.23" height="3.8" fill="#f6bd1b"/>
<rect x="365.09" y="350.90" width="8.63" height="3.8" fill="#2ea6de"/>
<rect x="373.72" y="350.90" width="1.23" height="3.8" fill="#f6bd1b"/>
<rect x="374.96" y="350.90" width="16.03" height="3.8" fill="#2ea6de"/>
<rect x="390.98" y="350.90" width="2.47" height="3.8" fill="#f6bd1b"/>
<rect x="394.68" y="350.90" width="9.86" height="3.8" fill="#2ea6de"/>
<rect x="405.78" y="350.90" width="4.93" height="3.8" fill="#2ea6de"/>
<rect x="410.71" y="350.90" width="2.47" height="3.8" fill="#f6bd1b"/>
<rect x="413.18" y="350.90" width="3.70" height="3.8" fill="#2ea6de"/>
<rect x="416.88" y="350.90" width="1.23" height="3.8" fill="#f4f0e4"/>
<rect x="418.11" y="350.90" width="1.23" height="3.8" fill="#ffffff"/>
<rect x="419.34" y="350.90" width="1.23" height="3.8" fill="#ebe9ee"/>
<rect x="420.57" y="350.90" width="1.23" height="3.8" fill="#f7f1dc"/>
<rect x="421.81" y="350.90" width="1.23" height="3.8" fill="#f4f0e4"/>
<rect x="423.04" y="350.90" width="3.70" height="3.8" fill="#2ea6de"/>
<rect x="429.20" y="350.90" width="14.80" height="3.8" fill="#2ea6de"/>
<text transform="translate(43.30,362.10) scale(0.93,1)" class="cl" text-anchor="end">POD24</text>
<rect x="47.00" y="358.30" width="1.23" height="3.8" fill="#2ea6de"/>
<rect x="50.70" y="358.30" width="1.23" height="3.8" fill="#2ea6de"/>
<rect x="54.40" y="358.30" width="1.23" height="3.8" fill="#f6bd1b"/>
<rect x="55.63" y="358.30" width="2.47" height="3.8" fill="#2ea6de"/>
<rect x="63.03" y="358.30" width="3.70" height="3.8" fill="#2ea6de"/>
<rect x="71.66" y="358.30" width="4.93" height="3.8" fill="#2ea6de"/>
<rect x="77.82" y="358.30" width="2.47" height="3.8" fill="#2ea6de"/>
<rect x="83.99" y="358.30" width="6.16" height="3.8" fill="#2ea6de"/>
<rect x="90.15" y="358.30" width="1.23" height="3.8" fill="#f6bd1b"/>
<rect x="91.39" y="358.30" width="1.23" height="3.8" fill="#2ea6de"/>
<rect x="92.62" y="358.30" width="1.23" height="3.8" fill="#f6bd1b"/>
<rect x="96.32" y="358.30" width="1.23" height="3.8" fill="#f6bd1b"/>
<rect x="97.55" y="358.30" width="7.40" height="3.8" fill="#2ea6de"/>
<rect x="104.95" y="358.30" width="1.23" height="3.8" fill="#f6bd1b"/>
<rect x="106.18" y="358.30" width="1.23" height="3.8" fill="#2ea6de"/>
<rect x="108.65" y="358.30" width="3.70" height="3.8" fill="#f6bd1b"/>
<rect x="112.34" y="358.30" width="4.93" height="3.8" fill="#2ea6de"/>
<rect x="117.28" y="358.30" width="1.23" height="3.8" fill="#f6bd1b"/>
<rect x="118.51" y="358.30" width="3.70" height="3.8" fill="#2ea6de"/>
<rect x="122.21" y="358.30" width="1.23" height="3.8" fill="#f6bd1b"/>
<rect x="123.44" y="358.30" width="1.23" height="3.8" fill="#2ea6de"/>
<rect x="124.67" y="358.30" width="1.23" height="3.8" fill="#f6bd1b"/>
<rect x="125.91" y="358.30" width="1.23" height="3.8" fill="#2ea6de"/>
<rect x="129.61" y="358.30" width="1.23" height="3.8" fill="#2ea6de"/>
<rect x="130.84" y="358.30" width="1.23" height="3.8" fill="#f4f0e4"/>
<rect x="132.07" y="358.30" width="1.23" height="3.8" fill="#ffffff"/>
<rect x="133.30" y="358.30" width="1.23" height="3.8" fill="#ebe9ee"/>
<rect x="134.54" y="358.30" width="1.23" height="3.8" fill="#f7f1dc"/>
<rect x="135.77" y="358.30" width="1.23" height="3.8" fill="#f4f0e4"/>
<rect x="137.00" y="358.30" width="1.23" height="3.8" fill="#ffffff"/>
<rect x="138.24" y="358.30" width="1.23" height="3.8" fill="#f6bd1b"/>
<rect x="139.47" y="358.30" width="1.23" height="3.8" fill="#f7f1dc"/>
<rect x="140.70" y="358.30" width="1.23" height="3.8" fill="#f4f0e4"/>
<rect x="141.93" y="358.30" width="1.23" height="3.8" fill="#ffffff"/>
<rect x="143.17" y="358.30" width="1.23" height="3.8" fill="#ebe9ee"/>
<rect x="144.40" y="358.30" width="1.23" height="3.8" fill="#f7f1dc"/>
<rect x="145.63" y="358.30" width="1.23" height="3.8" fill="#f4f0e4"/>
<rect x="146.87" y="358.30" width="1.23" height="3.8" fill="#ffffff"/>
<rect x="148.10" y="358.30" width="1.23" height="3.8" fill="#ebe9ee"/>
<rect x="149.33" y="358.30" width="1.23" height="3.8" fill="#f7f1dc"/>
<rect x="150.57" y="358.30" width="1.23" height="3.8" fill="#f4f0e4"/>
<rect x="151.80" y="358.30" width="1.23" height="3.8" fill="#ffffff"/>
<rect x="153.03" y="358.30" width="1.23" height="3.8" fill="#ebe9ee"/>
<rect x="154.26" y="358.30" width="1.23" height="3.8" fill="#f7f1dc"/>
<rect x="155.50" y="358.30" width="1.23" height="3.8" fill="#f4f0e4"/>
<rect x="156.73" y="358.30" width="1.23" height="3.8" fill="#ffffff"/>
<rect x="157.96" y="358.30" width="3.70" height="3.8" fill="#2ea6de"/>
<rect x="161.66" y="358.30" width="3.70" height="3.8" fill="#f6bd1b"/>
<rect x="165.36" y="358.30" width="1.23" height="3.8" fill="#2ea6de"/>
<rect x="169.06" y="358.30" width="1.23" height="3.8" fill="#f6bd1b"/>
<rect x="170.29" y="358.30" width="3.70" height="3.8" fill="#2ea6de"/>
<rect x="173.99" y="358.30" width="1.23" height="3.8" fill="#f6bd1b"/>
<rect x="175.22" y="358.30" width="1.23" height="3.8" fill="#2ea6de"/>
<rect x="176.46" y="358.30" width="1.23" height="3.8" fill="#f6bd1b"/>
<rect x="177.69" y="358.30" width="3.70" height="3.8" fill="#2ea6de"/>
<rect x="181.39" y="358.30" width="1.23" height="3.8" fill="#f6bd1b"/>
<rect x="182.62" y="358.30" width="3.70" height="3.8" fill="#2ea6de"/>
<rect x="186.32" y="358.30" width="1.23" height="3.8" fill="#f6bd1b"/>
<rect x="187.55" y="358.30" width="1.23" height="3.8" fill="#2ea6de"/>
<rect x="188.79" y="358.30" width="1.23" height="3.8" fill="#f6bd1b"/>
<rect x="192.48" y="358.30" width="3.70" height="3.8" fill="#2ea6de"/>
<rect x="198.65" y="358.30" width="1.23" height="3.8" fill="#2ea6de"/>
<rect x="201.11" y="358.30" width="3.70" height="3.8" fill="#2ea6de"/>
<rect x="204.81" y="358.30" width="2.47" height="3.8" fill="#f6bd1b"/>
<rect x="207.28" y="358.30" width="1.23" height="3.8" fill="#2ea6de"/>
<rect x="210.98" y="358.30" width="1.23" height="3.8" fill="#f6bd1b"/>
<rect x="214.68" y="358.30" width="3.70" height="3.8" fill="#2ea6de"/>
<rect x="222.07" y="358.30" width="7.40" height="3.8" fill="#2ea6de"/>
<rect x="231.94" y="358.30" width="11.10" height="3.8" fill="#2ea6de"/>
<rect x="246.73" y="358.30" width="1.23" height="3.8" fill="#f6bd1b"/>
<rect x="247.97" y="358.30" width="4.93" height="3.8" fill="#2ea6de"/>
<rect x="252.90" y="358.30" width="1.23" height="3.8" fill="#f7f1dc"/>
<rect x="254.13" y="358.30" width="1.23" height="3.8" fill="#f4f0e4"/>
<rect x="255.36" y="358.30" width="1.23" height="3.8" fill="#ffffff"/>
<rect x="256.60" y="358.30" width="1.23" height="3.8" fill="#ebe9ee"/>
<rect x="257.83" y="358.30" width="1.23" height="3.8" fill="#f7f1dc"/>
<rect x="259.06" y="358.30" width="1.23" height="3.8" fill="#2ea6de"/>
<rect x="260.30" y="358.30" width="1.23" height="3.8" fill="#ffffff"/>
<rect x="261.53" y="358.30" width="1.23" height="3.8" fill="#ebe9ee"/>
<rect x="262.76" y="358.30" width="1.23" height="3.8" fill="#f7f1dc"/>
<rect x="263.99" y="358.30" width="1.23" height="3.8" fill="#f4f0e4"/>
<rect x="265.23" y="358.30" width="1.23" height="3.8" fill="#ffffff"/>
<rect x="266.46" y="358.30" width="1.23" height="3.8" fill="#ebe9ee"/>
<rect x="267.69" y="358.30" width="1.23" height="3.8" fill="#f6bd1b"/>
<rect x="268.93" y="358.30" width="1.23" height="3.8" fill="#2ea6de"/>
<rect x="270.16" y="358.30" width="1.23" height="3.8" fill="#f6bd1b"/>
<rect x="271.39" y="358.30" width="1.23" height="3.8" fill="#ebe9ee"/>
<rect x="272.62" y="358.30" width="1.23" height="3.8" fill="#f7f1dc"/>
<rect x="273.86" y="358.30" width="1.23" height="3.8" fill="#f4f0e4"/>
<rect x="275.09" y="358.30" width="1.23" height="3.8" fill="#ffffff"/>
<rect x="276.32" y="358.30" width="1.23" height="3.8" fill="#ebe9ee"/>
<rect x="277.56" y="358.30" width="1.23" height="3.8" fill="#f7f1dc"/>
<rect x="278.79" y="358.30" width="1.23" height="3.8" fill="#2ea6de"/>
<rect x="280.02" y="358.30" width="1.23" height="3.8" fill="#f6bd1b"/>
<rect x="281.25" y="358.30" width="1.23" height="3.8" fill="#2ea6de"/>
<rect x="282.49" y="358.30" width="1.23" height="3.8" fill="#f6bd1b"/>
<rect x="283.72" y="358.30" width="2.47" height="3.8" fill="#2ea6de"/>
<rect x="289.89" y="358.30" width="2.47" height="3.8" fill="#cfcfd4"/>
<rect x="296.05" y="358.30" width="1.23" height="3.8" fill="#2ea6de"/>
<rect x="297.28" y="358.30" width="1.23" height="3.8" fill="#f6bd1b"/>
<rect x="303.45" y="358.30" width="2.47" height="3.8" fill="#2ea6de"/>
<rect x="305.91" y="358.30" width="1.23" height="3.8" fill="#ebe9ee"/>
<rect x="307.15" y="358.30" width="1.23" height="3.8" fill="#f7f1dc"/>
<rect x="308.38" y="358.30" width="1.23" height="3.8" fill="#f4f0e4"/>
<rect x="309.61" y="358.30" width="1.23" height="3.8" fill="#ffffff"/>
<rect x="310.84" y="358.30" width="1.23" height="3.8" fill="#ebe9ee"/>
<rect x="312.08" y="358.30" width="3.70" height="3.8" fill="#2ea6de"/>
<rect x="318.24" y="358.30" width="2.47" height="3.8" fill="#2ea6de"/>
<rect x="323.17" y="358.30" width="4.93" height="3.8" fill="#2ea6de"/>
<rect x="330.57" y="358.30" width="1.23" height="3.8" fill="#2ea6de"/>
<rect x="331.80" y="358.30" width="1.23" height="3.8" fill="#f6bd1b"/>
<rect x="335.50" y="358.30" width="6.16" height="3.8" fill="#2ea6de"/>
<rect x="344.13" y="358.30" width="2.47" height="3.8" fill="#2ea6de"/>
<rect x="346.60" y="358.30" width="1.23" height="3.8" fill="#f6bd1b"/>
<rect x="354.00" y="358.30" width="1.23" height="3.8" fill="#f6bd1b"/>
<rect x="355.23" y="358.30" width="1.23" height="3.8" fill="#2ea6de"/>
<rect x="356.46" y="358.30" width="1.23" height="3.8" fill="#f6bd1b"/>
<rect x="357.70" y="358.30" width="3.70" height="3.8" fill="#2ea6de"/>
<rect x="361.39" y="358.30" width="1.23" height="3.8" fill="#f6bd1b"/>
<rect x="362.63" y="358.30" width="4.93" height="3.8" fill="#2ea6de"/>
<rect x="371.26" y="358.30" width="2.47" height="3.8" fill="#2ea6de"/>
<rect x="373.72" y="358.30" width="1.23" height="3.8" fill="#f6bd1b"/>
<rect x="374.96" y="358.30" width="1.23" height="3.8" fill="#2ea6de"/>
<rect x="376.19" y="358.30" width="1.23" height="3.8" fill="#f6bd1b"/>
<rect x="377.42" y="358.30" width="2.47" height="3.8" fill="#2ea6de"/>
<rect x="383.59" y="358.30" width="4.93" height="3.8" fill="#2ea6de"/>
<rect x="392.22" y="358.30" width="1.23" height="3.8" fill="#f6bd1b"/>
<rect x="394.68" y="358.30" width="1.23" height="3.8" fill="#2ea6de"/>
<rect x="395.92" y="358.30" width="1.23" height="3.8" fill="#f6bd1b"/>
<rect x="397.15" y="358.30" width="1.23" height="3.8" fill="#2ea6de"/>
<rect x="398.38" y="358.30" width="1.23" height="3.8" fill="#f6bd1b"/>
<rect x="400.85" y="358.30" width="3.70" height="3.8" fill="#2ea6de"/>
<rect x="405.78" y="358.30" width="3.70" height="3.8" fill="#2ea6de"/>
<rect x="411.94" y="358.30" width="2.47" height="3.8" fill="#f6bd1b"/>
<rect x="416.88" y="358.30" width="1.23" height="3.8" fill="#2ea6de"/>
<rect x="418.11" y="358.30" width="1.23" height="3.8" fill="#ffffff"/>
<rect x="419.34" y="358.30" width="1.23" height="3.8" fill="#ebe9ee"/>
<rect x="420.57" y="358.30" width="1.23" height="3.8" fill="#f7f1dc"/>
<rect x="421.81" y="358.30" width="1.23" height="3.8" fill="#f4f0e4"/>
<rect x="423.04" y="358.30" width="3.70" height="3.8" fill="#2ea6de"/>
<rect x="429.20" y="358.30" width="4.93" height="3.8" fill="#2ea6de"/>
<rect x="434.14" y="358.30" width="7.40" height="3.8" fill="#f6bd1b"/>
<rect x="441.53" y="358.30" width="1.23" height="3.8" fill="#2ea6de"/>
<rect x="442.77" y="358.30" width="1.23" height="3.8" fill="#f6bd1b"/>
<rect x="446.6" y="327.90" width="3.9" height="3.9" fill="#2ea6de"/>
<text transform="translate(455.00,332.40) scale(0.93,1)" class="cl">Dx</text>
<rect x="469.2" y="327.90" width="3.9" height="3.9" fill="#f6bd1b"/>
<text transform="translate(477.00,332.40) scale(0.93,1)" class="cl">Rel/Ref</text>
<rect x="446.6" y="335.30" width="3.9" height="3.9" fill="#2ea6de"/>
<text transform="translate(455.00,339.80) scale(0.93,1)" class="cl">High</text>
<rect x="469.2" y="335.30" width="3.9" height="3.9" fill="#f6bd1b"/>
<text transform="translate(477.00,339.80) scale(0.93,1)" class="cl">Int</text>
<rect x="487" y="335.30" width="3.9" height="3.9" fill="#cfcfcf"/>
<text transform="translate(493.50,339.80) scale(0.93,1)" class="cl">Low</text>
<rect x="446.6" y="343.40" width="3.9" height="3.9" fill="#2ea6de"/>
<text transform="translate(455.00,347.90) scale(0.93,1)" class="cl">High</text>
<rect x="469.2" y="343.40" width="3.9" height="3.9" fill="#f6bd1b"/>
<text transform="translate(477.00,347.90) scale(0.93,1)" class="cl">Low</text>
<rect x="446.6" y="350.90" width="3.9" height="3.9" fill="#2ea6de"/>
<text transform="translate(455.00,355.40) scale(0.93,1)" class="cl">No</text>
<rect x="469.2" y="350.90" width="3.9" height="3.9" fill="#f6bd1b"/>
<text transform="translate(477.00,355.40) scale(0.93,1)" class="cl">Yes</text>
<rect x="446.6" y="358.30" width="3.9" height="3.9" fill="#2ea6de"/>
<text transform="translate(455.00,362.80) scale(0.93,1)" class="cl">No</text>
<rect x="469.2" y="358.30" width="3.9" height="3.9" fill="#f6bd1b"/>
<text transform="translate(477.00,362.80) scale(0.93,1)" class="cl">Yes</text>
<rect x="0" y="0" width="520" height="0.9" fill="#484848"/>
<rect x="0" y="0" width="1.1" height="371" fill="#505050"/>
<rect x="518.7" y="0" width="1.3" height="371" fill="#484848"/>
<rect x="0" y="369.4" width="520" height="1.6" fill="#484848"/>
</g>
</svg></body></html>
